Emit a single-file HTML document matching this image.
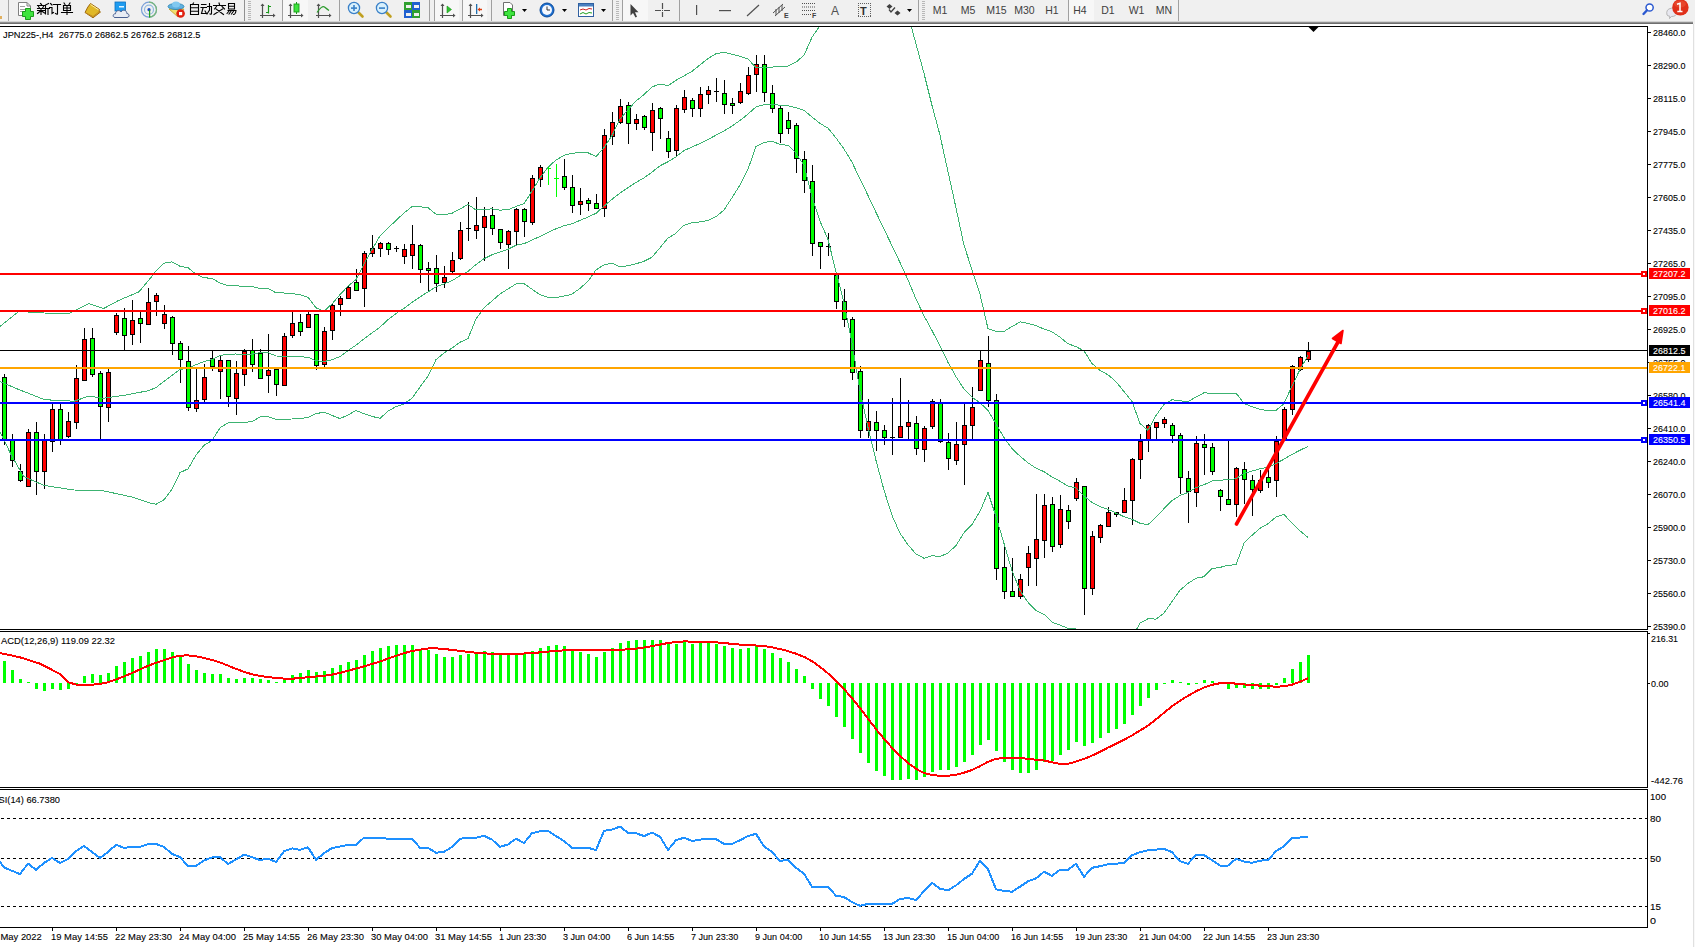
<!DOCTYPE html>
<html><head><meta charset="utf-8"><style>
html,body{margin:0;padding:0;width:1695px;height:947px;overflow:hidden;background:#fff;}
text{font-family:"Liberation Sans",sans-serif;}
</style></head><body>
<svg width="1695" height="947" viewBox="0 0 1695 947" style="position:absolute;left:0;top:0" font-family="Liberation Sans, sans-serif">
<rect x="0" y="0" width="1695" height="947" fill="#ffffff"/>
<rect x="0" y="0" width="1695" height="24" fill="#f0f0f0"/>
<rect x="0" y="21" width="1693" height="1" fill="#d4d4d4"/>
<rect x="0" y="22" width="1693" height="1" fill="#909090"/>
<rect x="0" y="23" width="1693" height="1" fill="#6e6e6e"/>
<rect x="1693" y="24" width="1" height="923" fill="#e0e0e0"/>
<rect x="1694" y="24" width="1" height="923" fill="#f8f8f8"/>
<defs><clipPath id="cm"><rect x="0" y="27" width="1647" height="602"/></clipPath><clipPath id="cmacd"><rect x="0" y="632" width="1647" height="155"/></clipPath><clipPath id="crsi"><rect x="0" y="790" width="1647" height="137"/></clipPath></defs>
<g shape-rendering="crispEdges">
<rect x="0" y="26" width="1648" height="1" fill="#000"/>
<rect x="1647" y="26" width="1" height="604" fill="#000"/>
<rect x="0" y="629" width="1648" height="1" fill="#000"/>
<rect x="0" y="631" width="1648" height="1" fill="#000"/>
<rect x="1647" y="631" width="1" height="157" fill="#000"/>
<rect x="0" y="787" width="1648" height="1" fill="#000"/>
<rect x="0" y="789" width="1648" height="1" fill="#000"/>
<rect x="1647" y="789" width="1" height="139" fill="#000"/>
<rect x="0" y="927" width="1648" height="1" fill="#000"/>
</g>
<g shape-rendering="crispEdges">
<rect x="1648" y="32" width="3" height="1" fill="#000"/>
<rect x="1648" y="65" width="3" height="1" fill="#000"/>
<rect x="1648" y="98" width="3" height="1" fill="#000"/>
<rect x="1648" y="131" width="3" height="1" fill="#000"/>
<rect x="1648" y="164" width="3" height="1" fill="#000"/>
<rect x="1648" y="197" width="3" height="1" fill="#000"/>
<rect x="1648" y="230" width="3" height="1" fill="#000"/>
<rect x="1648" y="263" width="3" height="1" fill="#000"/>
<rect x="1648" y="296" width="3" height="1" fill="#000"/>
<rect x="1648" y="329" width="3" height="1" fill="#000"/>
<rect x="1648" y="362" width="3" height="1" fill="#000"/>
<rect x="1648" y="395" width="3" height="1" fill="#000"/>
<rect x="1648" y="428" width="3" height="1" fill="#000"/>
<rect x="1648" y="461" width="3" height="1" fill="#000"/>
<rect x="1648" y="494" width="3" height="1" fill="#000"/>
<rect x="1648" y="527" width="3" height="1" fill="#000"/>
<rect x="1648" y="560" width="3" height="1" fill="#000"/>
<rect x="1648" y="593" width="3" height="1" fill="#000"/>
<rect x="1648" y="626" width="3" height="1" fill="#000"/>
</g>
<text x="1653" y="36" font-size="9.8" fill="#000" text-anchor="start" textLength="32.5" lengthAdjust="spacingAndGlyphs" stroke="#000" stroke-width="0.1">28460.0</text>
<text x="1653" y="69" font-size="9.8" fill="#000" text-anchor="start" textLength="32.5" lengthAdjust="spacingAndGlyphs" stroke="#000" stroke-width="0.1">28290.0</text>
<text x="1653" y="102" font-size="9.8" fill="#000" text-anchor="start" textLength="32.5" lengthAdjust="spacingAndGlyphs" stroke="#000" stroke-width="0.1">28115.0</text>
<text x="1653" y="135" font-size="9.8" fill="#000" text-anchor="start" textLength="32.5" lengthAdjust="spacingAndGlyphs" stroke="#000" stroke-width="0.1">27945.0</text>
<text x="1653" y="168" font-size="9.8" fill="#000" text-anchor="start" textLength="32.5" lengthAdjust="spacingAndGlyphs" stroke="#000" stroke-width="0.1">27775.0</text>
<text x="1653" y="201" font-size="9.8" fill="#000" text-anchor="start" textLength="32.5" lengthAdjust="spacingAndGlyphs" stroke="#000" stroke-width="0.1">27605.0</text>
<text x="1653" y="234" font-size="9.8" fill="#000" text-anchor="start" textLength="32.5" lengthAdjust="spacingAndGlyphs" stroke="#000" stroke-width="0.1">27435.0</text>
<text x="1653" y="267" font-size="9.8" fill="#000" text-anchor="start" textLength="32.5" lengthAdjust="spacingAndGlyphs" stroke="#000" stroke-width="0.1">27265.0</text>
<text x="1653" y="300" font-size="9.8" fill="#000" text-anchor="start" textLength="32.5" lengthAdjust="spacingAndGlyphs" stroke="#000" stroke-width="0.1">27095.0</text>
<text x="1653" y="333" font-size="9.8" fill="#000" text-anchor="start" textLength="32.5" lengthAdjust="spacingAndGlyphs" stroke="#000" stroke-width="0.1">26925.0</text>
<text x="1653" y="366" font-size="9.8" fill="#000" text-anchor="start" textLength="32.5" lengthAdjust="spacingAndGlyphs" stroke="#000" stroke-width="0.1">26755.0</text>
<text x="1653" y="399" font-size="9.8" fill="#000" text-anchor="start" textLength="32.5" lengthAdjust="spacingAndGlyphs" stroke="#000" stroke-width="0.1">26580.0</text>
<text x="1653" y="432" font-size="9.8" fill="#000" text-anchor="start" textLength="32.5" lengthAdjust="spacingAndGlyphs" stroke="#000" stroke-width="0.1">26410.0</text>
<text x="1653" y="465" font-size="9.8" fill="#000" text-anchor="start" textLength="32.5" lengthAdjust="spacingAndGlyphs" stroke="#000" stroke-width="0.1">26240.0</text>
<text x="1653" y="498" font-size="9.8" fill="#000" text-anchor="start" textLength="32.5" lengthAdjust="spacingAndGlyphs" stroke="#000" stroke-width="0.1">26070.0</text>
<text x="1653" y="531" font-size="9.8" fill="#000" text-anchor="start" textLength="32.5" lengthAdjust="spacingAndGlyphs" stroke="#000" stroke-width="0.1">25900.0</text>
<text x="1653" y="564" font-size="9.8" fill="#000" text-anchor="start" textLength="32.5" lengthAdjust="spacingAndGlyphs" stroke="#000" stroke-width="0.1">25730.0</text>
<text x="1653" y="597" font-size="9.8" fill="#000" text-anchor="start" textLength="32.5" lengthAdjust="spacingAndGlyphs" stroke="#000" stroke-width="0.1">25560.0</text>
<text x="1653" y="630" font-size="9.8" fill="#000" text-anchor="start" textLength="32.5" lengthAdjust="spacingAndGlyphs" stroke="#000" stroke-width="0.1">25390.0</text>
<g shape-rendering="crispEdges" clip-path="url(#cm)">
<rect x="4" y="374" width="1" height="71" fill="#000"/>
<rect x="2" y="377" width="5" height="63" fill="#000"/>
<rect x="3" y="378" width="3" height="61" fill="#00ff00"/>
<rect x="12" y="434" width="1" height="33" fill="#000"/>
<rect x="10" y="440" width="5" height="21" fill="#000"/>
<rect x="11" y="441" width="3" height="19" fill="#00ff00"/>
<rect x="20" y="464" width="1" height="18" fill="#000"/>
<rect x="18" y="471" width="5" height="10" fill="#000"/>
<rect x="19" y="472" width="3" height="8" fill="#00ff00"/>
<rect x="28" y="429" width="1" height="58" fill="#000"/>
<rect x="26" y="432" width="5" height="55" fill="#000"/>
<rect x="27" y="433" width="3" height="53" fill="#ff0000"/>
<rect x="36" y="422" width="1" height="73" fill="#000"/>
<rect x="34" y="432" width="5" height="40" fill="#000"/>
<rect x="35" y="433" width="3" height="38" fill="#00ff00"/>
<rect x="44" y="434" width="1" height="55" fill="#000"/>
<rect x="42" y="440" width="5" height="32" fill="#000"/>
<rect x="43" y="441" width="3" height="30" fill="#ff0000"/>
<rect x="52" y="404" width="1" height="48" fill="#000"/>
<rect x="50" y="409" width="5" height="33" fill="#000"/>
<rect x="51" y="410" width="3" height="31" fill="#ff0000"/>
<rect x="60" y="404" width="1" height="41" fill="#000"/>
<rect x="58" y="409" width="5" height="31" fill="#000"/>
<rect x="59" y="410" width="3" height="29" fill="#00ff00"/>
<rect x="68" y="412" width="1" height="26" fill="#000"/>
<rect x="66" y="421" width="5" height="16" fill="#000"/>
<rect x="67" y="422" width="3" height="14" fill="#ff0000"/>
<rect x="76" y="365" width="1" height="64" fill="#000"/>
<rect x="74" y="378" width="5" height="45" fill="#000"/>
<rect x="75" y="379" width="3" height="43" fill="#ff0000"/>
<rect x="84" y="328" width="1" height="53" fill="#000"/>
<rect x="82" y="339" width="5" height="42" fill="#000"/>
<rect x="83" y="340" width="3" height="40" fill="#ff0000"/>
<rect x="92" y="328" width="1" height="49" fill="#000"/>
<rect x="90" y="338" width="5" height="37" fill="#000"/>
<rect x="91" y="339" width="3" height="35" fill="#00ff00"/>
<rect x="100" y="371" width="1" height="69" fill="#000"/>
<rect x="98" y="373" width="5" height="34" fill="#000"/>
<rect x="99" y="374" width="3" height="32" fill="#00ff00"/>
<rect x="108" y="369" width="1" height="53" fill="#000"/>
<rect x="106" y="372" width="5" height="36" fill="#000"/>
<rect x="107" y="373" width="3" height="34" fill="#ff0000"/>
<rect x="116" y="313" width="1" height="22" fill="#000"/>
<rect x="114" y="315" width="5" height="18" fill="#000"/>
<rect x="115" y="316" width="3" height="16" fill="#ff0000"/>
<rect x="124" y="308" width="1" height="43" fill="#000"/>
<rect x="122" y="318" width="5" height="18" fill="#000"/>
<rect x="123" y="319" width="3" height="16" fill="#00ff00"/>
<rect x="132" y="300" width="1" height="45" fill="#000"/>
<rect x="130" y="320" width="5" height="15" fill="#000"/>
<rect x="131" y="321" width="3" height="13" fill="#ff0000"/>
<rect x="140" y="312" width="1" height="31" fill="#000"/>
<rect x="138" y="318" width="5" height="6" fill="#000"/>
<rect x="139" y="319" width="3" height="4" fill="#00ff00"/>
<rect x="148" y="288" width="1" height="37" fill="#000"/>
<rect x="146" y="302" width="5" height="23" fill="#000"/>
<rect x="147" y="303" width="3" height="21" fill="#ff0000"/>
<rect x="156" y="293" width="1" height="23" fill="#000"/>
<rect x="154" y="295" width="5" height="7" fill="#000"/>
<rect x="155" y="296" width="3" height="5" fill="#ff0000"/>
<rect x="164" y="305" width="1" height="24" fill="#000"/>
<rect x="162" y="314" width="5" height="10" fill="#000"/>
<rect x="163" y="315" width="3" height="8" fill="#ff0000"/>
<rect x="172" y="316" width="1" height="39" fill="#000"/>
<rect x="170" y="317" width="5" height="27" fill="#000"/>
<rect x="171" y="318" width="3" height="25" fill="#00ff00"/>
<rect x="180" y="341" width="1" height="42" fill="#000"/>
<rect x="178" y="343" width="5" height="17" fill="#000"/>
<rect x="179" y="344" width="3" height="15" fill="#00ff00"/>
<rect x="188" y="346" width="1" height="65" fill="#000"/>
<rect x="186" y="361" width="5" height="47" fill="#000"/>
<rect x="187" y="362" width="3" height="45" fill="#00ff00"/>
<rect x="196" y="368" width="1" height="44" fill="#000"/>
<rect x="194" y="400" width="5" height="9" fill="#000"/>
<rect x="195" y="401" width="3" height="7" fill="#ff0000"/>
<rect x="204" y="364" width="1" height="38" fill="#000"/>
<rect x="202" y="377" width="5" height="23" fill="#000"/>
<rect x="203" y="378" width="3" height="21" fill="#ff0000"/>
<rect x="212" y="351" width="1" height="20" fill="#000"/>
<rect x="210" y="358" width="5" height="9" fill="#000"/>
<rect x="211" y="359" width="3" height="7" fill="#00ff00"/>
<rect x="220" y="356" width="1" height="43" fill="#000"/>
<rect x="218" y="360" width="5" height="12" fill="#000"/>
<rect x="219" y="361" width="3" height="10" fill="#ff0000"/>
<rect x="228" y="360" width="1" height="47" fill="#000"/>
<rect x="226" y="360" width="5" height="37" fill="#000"/>
<rect x="227" y="361" width="3" height="35" fill="#00ff00"/>
<rect x="236" y="361" width="1" height="54" fill="#000"/>
<rect x="234" y="373" width="5" height="26" fill="#000"/>
<rect x="235" y="374" width="3" height="24" fill="#ff0000"/>
<rect x="244" y="349" width="1" height="37" fill="#000"/>
<rect x="242" y="351" width="5" height="24" fill="#000"/>
<rect x="243" y="352" width="3" height="22" fill="#ff0000"/>
<rect x="252" y="339" width="1" height="33" fill="#000"/>
<rect x="250" y="350" width="5" height="15" fill="#000"/>
<rect x="251" y="351" width="3" height="13" fill="#00ff00"/>
<rect x="260" y="349" width="1" height="30" fill="#000"/>
<rect x="258" y="353" width="5" height="26" fill="#000"/>
<rect x="259" y="354" width="3" height="24" fill="#00ff00"/>
<rect x="268" y="334" width="1" height="59" fill="#000"/>
<rect x="266" y="370" width="5" height="6" fill="#000"/>
<rect x="267" y="371" width="3" height="4" fill="#ff0000"/>
<rect x="276" y="369" width="1" height="27" fill="#000"/>
<rect x="274" y="369" width="5" height="16" fill="#000"/>
<rect x="275" y="370" width="3" height="14" fill="#00ff00"/>
<rect x="284" y="333" width="1" height="53" fill="#000"/>
<rect x="282" y="336" width="5" height="50" fill="#000"/>
<rect x="283" y="337" width="3" height="48" fill="#ff0000"/>
<rect x="292" y="312" width="1" height="26" fill="#000"/>
<rect x="290" y="323" width="5" height="13" fill="#000"/>
<rect x="291" y="324" width="3" height="11" fill="#ff0000"/>
<rect x="300" y="314" width="1" height="22" fill="#000"/>
<rect x="298" y="322" width="5" height="10" fill="#000"/>
<rect x="299" y="323" width="3" height="8" fill="#00ff00"/>
<rect x="308" y="312" width="1" height="16" fill="#000"/>
<rect x="306" y="314" width="5" height="14" fill="#000"/>
<rect x="307" y="315" width="3" height="12" fill="#ff0000"/>
<rect x="316" y="314" width="1" height="56" fill="#000"/>
<rect x="314" y="314" width="5" height="52" fill="#000"/>
<rect x="315" y="315" width="3" height="50" fill="#00ff00"/>
<rect x="324" y="327" width="1" height="41" fill="#000"/>
<rect x="322" y="331" width="5" height="34" fill="#000"/>
<rect x="323" y="332" width="3" height="32" fill="#ff0000"/>
<rect x="332" y="304" width="1" height="36" fill="#000"/>
<rect x="330" y="305" width="5" height="26" fill="#000"/>
<rect x="331" y="306" width="3" height="24" fill="#ff0000"/>
<rect x="340" y="296" width="1" height="20" fill="#000"/>
<rect x="338" y="298" width="5" height="7" fill="#000"/>
<rect x="339" y="299" width="3" height="5" fill="#ff0000"/>
<rect x="348" y="285" width="1" height="14" fill="#000"/>
<rect x="346" y="287" width="5" height="12" fill="#000"/>
<rect x="347" y="288" width="3" height="10" fill="#ff0000"/>
<rect x="356" y="269" width="1" height="22" fill="#000"/>
<rect x="354" y="282" width="5" height="9" fill="#000"/>
<rect x="355" y="283" width="3" height="7" fill="#00ff00"/>
<rect x="364" y="251" width="1" height="56" fill="#000"/>
<rect x="362" y="253" width="5" height="36" fill="#000"/>
<rect x="363" y="254" width="3" height="34" fill="#ff0000"/>
<rect x="372" y="235" width="1" height="22" fill="#000"/>
<rect x="370" y="248" width="5" height="6" fill="#000"/>
<rect x="371" y="249" width="3" height="4" fill="#ff0000"/>
<rect x="380" y="242" width="1" height="15" fill="#000"/>
<rect x="378" y="243" width="5" height="6" fill="#000"/>
<rect x="379" y="244" width="3" height="4" fill="#ff0000"/>
<rect x="388" y="242" width="1" height="13" fill="#000"/>
<rect x="386" y="243" width="5" height="7" fill="#000"/>
<rect x="387" y="244" width="3" height="5" fill="#00ff00"/>
<rect x="396" y="246" width="1" height="6" fill="#000"/>
<rect x="394" y="248" width="5" height="1" fill="#000"/>
<rect x="404" y="244" width="1" height="20" fill="#000"/>
<rect x="402" y="249" width="5" height="8" fill="#000"/>
<rect x="403" y="250" width="3" height="6" fill="#ff0000"/>
<rect x="412" y="225" width="1" height="44" fill="#000"/>
<rect x="410" y="244" width="5" height="12" fill="#000"/>
<rect x="411" y="245" width="3" height="10" fill="#ff0000"/>
<rect x="420" y="244" width="1" height="39" fill="#000"/>
<rect x="418" y="245" width="5" height="25" fill="#000"/>
<rect x="419" y="246" width="3" height="23" fill="#00ff00"/>
<rect x="428" y="262" width="1" height="29" fill="#000"/>
<rect x="426" y="268" width="5" height="3" fill="#000"/>
<rect x="427" y="269" width="3" height="1" fill="#00ff00"/>
<rect x="436" y="255" width="1" height="37" fill="#000"/>
<rect x="434" y="268" width="5" height="16" fill="#000"/>
<rect x="435" y="269" width="3" height="14" fill="#00ff00"/>
<rect x="444" y="266" width="1" height="22" fill="#000"/>
<rect x="442" y="277" width="5" height="6" fill="#000"/>
<rect x="443" y="278" width="3" height="4" fill="#ff0000"/>
<rect x="452" y="252" width="1" height="22" fill="#000"/>
<rect x="450" y="260" width="5" height="12" fill="#000"/>
<rect x="451" y="261" width="3" height="10" fill="#ff0000"/>
<rect x="460" y="222" width="1" height="38" fill="#000"/>
<rect x="458" y="230" width="5" height="29" fill="#000"/>
<rect x="459" y="231" width="3" height="27" fill="#ff0000"/>
<rect x="468" y="202" width="1" height="39" fill="#000"/>
<rect x="466" y="228" width="5" height="1" fill="#000"/>
<rect x="476" y="197" width="1" height="42" fill="#000"/>
<rect x="474" y="225" width="5" height="6" fill="#000"/>
<rect x="475" y="226" width="3" height="4" fill="#ff0000"/>
<rect x="484" y="207" width="1" height="54" fill="#000"/>
<rect x="482" y="216" width="5" height="12" fill="#000"/>
<rect x="483" y="217" width="3" height="10" fill="#ff0000"/>
<rect x="492" y="207" width="1" height="28" fill="#000"/>
<rect x="490" y="215" width="5" height="14" fill="#000"/>
<rect x="491" y="216" width="3" height="12" fill="#00ff00"/>
<rect x="500" y="229" width="1" height="20" fill="#000"/>
<rect x="498" y="229" width="5" height="14" fill="#000"/>
<rect x="499" y="230" width="3" height="12" fill="#00ff00"/>
<rect x="508" y="230" width="1" height="39" fill="#000"/>
<rect x="506" y="231" width="5" height="14" fill="#000"/>
<rect x="507" y="232" width="3" height="12" fill="#ff0000"/>
<rect x="516" y="208" width="1" height="38" fill="#000"/>
<rect x="514" y="209" width="5" height="23" fill="#000"/>
<rect x="515" y="210" width="3" height="21" fill="#ff0000"/>
<rect x="524" y="208" width="1" height="29" fill="#000"/>
<rect x="522" y="209" width="5" height="13" fill="#000"/>
<rect x="523" y="210" width="3" height="11" fill="#00ff00"/>
<rect x="532" y="175" width="1" height="50" fill="#000"/>
<rect x="530" y="178" width="5" height="45" fill="#000"/>
<rect x="531" y="179" width="3" height="43" fill="#ff0000"/>
<rect x="540" y="165" width="1" height="22" fill="#000"/>
<rect x="538" y="167" width="5" height="13" fill="#000"/>
<rect x="539" y="168" width="3" height="11" fill="#ff0000"/>
<rect x="548" y="167" width="1" height="18" fill="#00ff00"/>
<rect x="546" y="168" width="5" height="1" fill="#00ff00"/>
<rect x="556" y="164" width="1" height="33" fill="#00ff00"/>
<rect x="554" y="178" width="5" height="1" fill="#00ff00"/>
<rect x="564" y="159" width="1" height="31" fill="#000"/>
<rect x="562" y="176" width="5" height="12" fill="#000"/>
<rect x="563" y="177" width="3" height="10" fill="#00ff00"/>
<rect x="572" y="175" width="1" height="38" fill="#000"/>
<rect x="570" y="187" width="5" height="19" fill="#000"/>
<rect x="571" y="188" width="3" height="17" fill="#00ff00"/>
<rect x="580" y="188" width="1" height="27" fill="#000"/>
<rect x="578" y="201" width="5" height="4" fill="#000"/>
<rect x="579" y="202" width="3" height="2" fill="#ff0000"/>
<rect x="588" y="198" width="1" height="13" fill="#000"/>
<rect x="586" y="200" width="5" height="4" fill="#000"/>
<rect x="587" y="201" width="3" height="2" fill="#00ff00"/>
<rect x="596" y="194" width="1" height="15" fill="#000"/>
<rect x="594" y="203" width="5" height="6" fill="#000"/>
<rect x="595" y="204" width="3" height="4" fill="#00ff00"/>
<rect x="604" y="129" width="1" height="88" fill="#000"/>
<rect x="602" y="135" width="5" height="74" fill="#000"/>
<rect x="603" y="136" width="3" height="72" fill="#ff0000"/>
<rect x="612" y="112" width="1" height="33" fill="#000"/>
<rect x="610" y="122" width="5" height="15" fill="#000"/>
<rect x="611" y="123" width="3" height="13" fill="#ff0000"/>
<rect x="620" y="99" width="1" height="25" fill="#000"/>
<rect x="618" y="106" width="5" height="17" fill="#000"/>
<rect x="619" y="107" width="3" height="15" fill="#ff0000"/>
<rect x="628" y="102" width="1" height="42" fill="#000"/>
<rect x="626" y="105" width="5" height="19" fill="#000"/>
<rect x="627" y="106" width="3" height="17" fill="#00ff00"/>
<rect x="636" y="114" width="1" height="16" fill="#000"/>
<rect x="634" y="119" width="5" height="5" fill="#000"/>
<rect x="635" y="120" width="3" height="3" fill="#ff0000"/>
<rect x="644" y="115" width="1" height="15" fill="#000"/>
<rect x="642" y="116" width="5" height="12" fill="#000"/>
<rect x="643" y="117" width="3" height="10" fill="#00ff00"/>
<rect x="652" y="103" width="1" height="48" fill="#000"/>
<rect x="650" y="110" width="5" height="23" fill="#000"/>
<rect x="651" y="111" width="3" height="21" fill="#ff0000"/>
<rect x="660" y="107" width="1" height="32" fill="#000"/>
<rect x="658" y="108" width="5" height="11" fill="#000"/>
<rect x="659" y="109" width="3" height="9" fill="#00ff00"/>
<rect x="668" y="131" width="1" height="27" fill="#000"/>
<rect x="666" y="138" width="5" height="14" fill="#000"/>
<rect x="667" y="139" width="3" height="12" fill="#00ff00"/>
<rect x="676" y="105" width="1" height="51" fill="#000"/>
<rect x="674" y="108" width="5" height="43" fill="#000"/>
<rect x="675" y="109" width="3" height="41" fill="#ff0000"/>
<rect x="684" y="90" width="1" height="23" fill="#000"/>
<rect x="682" y="97" width="5" height="13" fill="#000"/>
<rect x="683" y="98" width="3" height="11" fill="#ff0000"/>
<rect x="692" y="98" width="1" height="19" fill="#000"/>
<rect x="690" y="100" width="5" height="9" fill="#000"/>
<rect x="691" y="101" width="3" height="7" fill="#00ff00"/>
<rect x="700" y="87" width="1" height="30" fill="#000"/>
<rect x="698" y="94" width="5" height="15" fill="#000"/>
<rect x="699" y="95" width="3" height="13" fill="#ff0000"/>
<rect x="708" y="86" width="1" height="18" fill="#000"/>
<rect x="706" y="90" width="5" height="5" fill="#000"/>
<rect x="707" y="91" width="3" height="3" fill="#ff0000"/>
<rect x="716" y="78" width="1" height="24" fill="#000"/>
<rect x="714" y="91" width="5" height="1" fill="#000"/>
<rect x="724" y="80" width="1" height="34" fill="#000"/>
<rect x="722" y="93" width="5" height="12" fill="#000"/>
<rect x="723" y="94" width="3" height="10" fill="#00ff00"/>
<rect x="732" y="98" width="1" height="16" fill="#000"/>
<rect x="730" y="103" width="5" height="3" fill="#000"/>
<rect x="731" y="104" width="3" height="1" fill="#00ff00"/>
<rect x="740" y="83" width="1" height="21" fill="#000"/>
<rect x="738" y="91" width="5" height="12" fill="#000"/>
<rect x="739" y="92" width="3" height="10" fill="#ff0000"/>
<rect x="748" y="67" width="1" height="28" fill="#000"/>
<rect x="746" y="75" width="5" height="19" fill="#000"/>
<rect x="747" y="76" width="3" height="17" fill="#ff0000"/>
<rect x="756" y="55" width="1" height="37" fill="#000"/>
<rect x="754" y="64" width="5" height="11" fill="#000"/>
<rect x="755" y="65" width="3" height="9" fill="#ff0000"/>
<rect x="764" y="55" width="1" height="47" fill="#000"/>
<rect x="762" y="64" width="5" height="29" fill="#000"/>
<rect x="763" y="65" width="3" height="27" fill="#00ff00"/>
<rect x="772" y="85" width="1" height="28" fill="#000"/>
<rect x="770" y="93" width="5" height="16" fill="#000"/>
<rect x="771" y="94" width="3" height="14" fill="#00ff00"/>
<rect x="780" y="106" width="1" height="37" fill="#000"/>
<rect x="778" y="108" width="5" height="26" fill="#000"/>
<rect x="779" y="109" width="3" height="24" fill="#00ff00"/>
<rect x="788" y="112" width="1" height="22" fill="#000"/>
<rect x="786" y="120" width="5" height="9" fill="#000"/>
<rect x="787" y="121" width="3" height="7" fill="#00ff00"/>
<rect x="796" y="123" width="1" height="50" fill="#000"/>
<rect x="794" y="125" width="5" height="34" fill="#000"/>
<rect x="795" y="126" width="3" height="32" fill="#00ff00"/>
<rect x="804" y="151" width="1" height="42" fill="#000"/>
<rect x="802" y="159" width="5" height="22" fill="#000"/>
<rect x="803" y="160" width="3" height="20" fill="#00ff00"/>
<rect x="812" y="165" width="1" height="91" fill="#000"/>
<rect x="810" y="181" width="5" height="63" fill="#000"/>
<rect x="811" y="182" width="3" height="61" fill="#00ff00"/>
<rect x="820" y="242" width="1" height="27" fill="#000"/>
<rect x="818" y="242" width="5" height="5" fill="#000"/>
<rect x="819" y="243" width="3" height="3" fill="#00ff00"/>
<rect x="828" y="233" width="1" height="23" fill="#000"/>
<rect x="826" y="246" width="5" height="1" fill="#000"/>
<rect x="836" y="274" width="1" height="35" fill="#000"/>
<rect x="834" y="275" width="5" height="27" fill="#000"/>
<rect x="835" y="276" width="3" height="25" fill="#00ff00"/>
<rect x="844" y="289" width="1" height="38" fill="#000"/>
<rect x="842" y="301" width="5" height="19" fill="#000"/>
<rect x="843" y="302" width="3" height="17" fill="#00ff00"/>
<rect x="852" y="317" width="1" height="63" fill="#000"/>
<rect x="850" y="319" width="5" height="54" fill="#000"/>
<rect x="851" y="320" width="3" height="52" fill="#00ff00"/>
<rect x="860" y="366" width="1" height="72" fill="#000"/>
<rect x="858" y="371" width="5" height="60" fill="#000"/>
<rect x="859" y="372" width="3" height="58" fill="#00ff00"/>
<rect x="868" y="399" width="1" height="39" fill="#000"/>
<rect x="866" y="421" width="5" height="10" fill="#000"/>
<rect x="867" y="422" width="3" height="8" fill="#ff0000"/>
<rect x="876" y="411" width="1" height="40" fill="#000"/>
<rect x="874" y="422" width="5" height="9" fill="#000"/>
<rect x="875" y="423" width="3" height="7" fill="#00ff00"/>
<rect x="884" y="425" width="1" height="20" fill="#000"/>
<rect x="882" y="430" width="5" height="8" fill="#000"/>
<rect x="883" y="431" width="3" height="6" fill="#00ff00"/>
<rect x="892" y="398" width="1" height="57" fill="#000"/>
<rect x="890" y="437" width="5" height="1" fill="#000"/>
<rect x="900" y="378" width="1" height="60" fill="#000"/>
<rect x="898" y="426" width="5" height="12" fill="#000"/>
<rect x="899" y="427" width="3" height="10" fill="#ff0000"/>
<rect x="908" y="400" width="1" height="39" fill="#000"/>
<rect x="906" y="422" width="5" height="5" fill="#000"/>
<rect x="907" y="423" width="3" height="3" fill="#ff0000"/>
<rect x="916" y="416" width="1" height="39" fill="#000"/>
<rect x="914" y="423" width="5" height="26" fill="#000"/>
<rect x="915" y="424" width="3" height="24" fill="#00ff00"/>
<rect x="924" y="426" width="1" height="36" fill="#000"/>
<rect x="922" y="428" width="5" height="22" fill="#000"/>
<rect x="923" y="429" width="3" height="20" fill="#ff0000"/>
<rect x="932" y="399" width="1" height="30" fill="#000"/>
<rect x="930" y="401" width="5" height="26" fill="#000"/>
<rect x="931" y="402" width="3" height="24" fill="#ff0000"/>
<rect x="940" y="399" width="1" height="44" fill="#000"/>
<rect x="938" y="403" width="5" height="39" fill="#000"/>
<rect x="939" y="404" width="3" height="37" fill="#00ff00"/>
<rect x="948" y="433" width="1" height="37" fill="#000"/>
<rect x="946" y="442" width="5" height="17" fill="#000"/>
<rect x="947" y="443" width="3" height="15" fill="#00ff00"/>
<rect x="956" y="422" width="1" height="43" fill="#000"/>
<rect x="954" y="444" width="5" height="17" fill="#000"/>
<rect x="955" y="445" width="3" height="15" fill="#ff0000"/>
<rect x="964" y="404" width="1" height="81" fill="#000"/>
<rect x="962" y="425" width="5" height="20" fill="#000"/>
<rect x="963" y="426" width="3" height="18" fill="#ff0000"/>
<rect x="972" y="387" width="1" height="52" fill="#000"/>
<rect x="970" y="407" width="5" height="19" fill="#000"/>
<rect x="971" y="408" width="3" height="17" fill="#ff0000"/>
<rect x="980" y="351" width="1" height="40" fill="#000"/>
<rect x="978" y="360" width="5" height="31" fill="#000"/>
<rect x="979" y="361" width="3" height="29" fill="#ff0000"/>
<rect x="988" y="336" width="1" height="71" fill="#000"/>
<rect x="986" y="363" width="5" height="38" fill="#000"/>
<rect x="987" y="364" width="3" height="36" fill="#00ff00"/>
<rect x="996" y="394" width="1" height="186" fill="#000"/>
<rect x="994" y="400" width="5" height="169" fill="#000"/>
<rect x="995" y="401" width="3" height="167" fill="#00ff00"/>
<rect x="1004" y="546" width="1" height="53" fill="#000"/>
<rect x="1002" y="567" width="5" height="25" fill="#000"/>
<rect x="1003" y="568" width="3" height="23" fill="#00ff00"/>
<rect x="1012" y="558" width="1" height="39" fill="#000"/>
<rect x="1010" y="591" width="5" height="6" fill="#000"/>
<rect x="1011" y="592" width="3" height="4" fill="#00ff00"/>
<rect x="1020" y="574" width="1" height="25" fill="#000"/>
<rect x="1018" y="579" width="5" height="18" fill="#000"/>
<rect x="1019" y="580" width="3" height="16" fill="#ff0000"/>
<rect x="1028" y="546" width="1" height="40" fill="#000"/>
<rect x="1026" y="553" width="5" height="15" fill="#000"/>
<rect x="1027" y="554" width="3" height="13" fill="#ff0000"/>
<rect x="1036" y="494" width="1" height="92" fill="#000"/>
<rect x="1034" y="539" width="5" height="20" fill="#000"/>
<rect x="1035" y="540" width="3" height="18" fill="#ff0000"/>
<rect x="1044" y="494" width="1" height="64" fill="#000"/>
<rect x="1042" y="505" width="5" height="36" fill="#000"/>
<rect x="1043" y="506" width="3" height="34" fill="#ff0000"/>
<rect x="1052" y="497" width="1" height="55" fill="#000"/>
<rect x="1050" y="504" width="5" height="43" fill="#000"/>
<rect x="1051" y="505" width="3" height="41" fill="#00ff00"/>
<rect x="1060" y="495" width="1" height="53" fill="#000"/>
<rect x="1058" y="509" width="5" height="36" fill="#000"/>
<rect x="1059" y="510" width="3" height="34" fill="#ff0000"/>
<rect x="1068" y="505" width="1" height="24" fill="#000"/>
<rect x="1066" y="510" width="5" height="12" fill="#000"/>
<rect x="1067" y="511" width="3" height="10" fill="#00ff00"/>
<rect x="1076" y="478" width="1" height="23" fill="#000"/>
<rect x="1074" y="482" width="5" height="17" fill="#000"/>
<rect x="1075" y="483" width="3" height="15" fill="#ff0000"/>
<rect x="1084" y="486" width="1" height="129" fill="#000"/>
<rect x="1082" y="486" width="5" height="103" fill="#000"/>
<rect x="1083" y="487" width="3" height="101" fill="#00ff00"/>
<rect x="1092" y="531" width="1" height="64" fill="#000"/>
<rect x="1090" y="536" width="5" height="53" fill="#000"/>
<rect x="1091" y="537" width="3" height="51" fill="#ff0000"/>
<rect x="1100" y="524" width="1" height="19" fill="#000"/>
<rect x="1098" y="525" width="5" height="13" fill="#000"/>
<rect x="1099" y="526" width="3" height="11" fill="#ff0000"/>
<rect x="1108" y="507" width="1" height="20" fill="#000"/>
<rect x="1106" y="512" width="5" height="15" fill="#000"/>
<rect x="1107" y="513" width="3" height="13" fill="#ff0000"/>
<rect x="1116" y="512" width="1" height="5" fill="#000"/>
<rect x="1114" y="512" width="5" height="3" fill="#000"/>
<rect x="1115" y="513" width="3" height="1" fill="#00ff00"/>
<rect x="1124" y="488" width="1" height="25" fill="#000"/>
<rect x="1122" y="500" width="5" height="13" fill="#000"/>
<rect x="1123" y="501" width="3" height="11" fill="#ff0000"/>
<rect x="1132" y="458" width="1" height="67" fill="#000"/>
<rect x="1130" y="459" width="5" height="42" fill="#000"/>
<rect x="1131" y="460" width="3" height="40" fill="#ff0000"/>
<rect x="1140" y="434" width="1" height="45" fill="#000"/>
<rect x="1138" y="441" width="5" height="19" fill="#000"/>
<rect x="1139" y="442" width="3" height="17" fill="#ff0000"/>
<rect x="1148" y="424" width="1" height="28" fill="#000"/>
<rect x="1146" y="425" width="5" height="15" fill="#000"/>
<rect x="1147" y="426" width="3" height="13" fill="#ff0000"/>
<rect x="1156" y="422" width="1" height="18" fill="#000"/>
<rect x="1154" y="422" width="5" height="6" fill="#000"/>
<rect x="1155" y="423" width="3" height="4" fill="#ff0000"/>
<rect x="1164" y="417" width="1" height="11" fill="#000"/>
<rect x="1162" y="419" width="5" height="5" fill="#000"/>
<rect x="1163" y="420" width="3" height="3" fill="#ff0000"/>
<rect x="1172" y="423" width="1" height="20" fill="#000"/>
<rect x="1170" y="425" width="5" height="11" fill="#000"/>
<rect x="1171" y="426" width="3" height="9" fill="#00ff00"/>
<rect x="1180" y="433" width="1" height="61" fill="#000"/>
<rect x="1178" y="435" width="5" height="43" fill="#000"/>
<rect x="1179" y="436" width="3" height="41" fill="#00ff00"/>
<rect x="1188" y="471" width="1" height="52" fill="#000"/>
<rect x="1186" y="478" width="5" height="14" fill="#000"/>
<rect x="1187" y="479" width="3" height="12" fill="#00ff00"/>
<rect x="1196" y="436" width="1" height="71" fill="#000"/>
<rect x="1194" y="443" width="5" height="50" fill="#000"/>
<rect x="1195" y="444" width="3" height="48" fill="#ff0000"/>
<rect x="1204" y="434" width="1" height="41" fill="#000"/>
<rect x="1202" y="444" width="5" height="4" fill="#000"/>
<rect x="1203" y="445" width="3" height="2" fill="#00ff00"/>
<rect x="1212" y="443" width="1" height="32" fill="#000"/>
<rect x="1210" y="447" width="5" height="25" fill="#000"/>
<rect x="1211" y="448" width="3" height="23" fill="#00ff00"/>
<rect x="1220" y="489" width="1" height="22" fill="#000"/>
<rect x="1218" y="490" width="5" height="7" fill="#000"/>
<rect x="1219" y="491" width="3" height="5" fill="#00ff00"/>
<rect x="1228" y="441" width="1" height="64" fill="#000"/>
<rect x="1226" y="499" width="5" height="6" fill="#000"/>
<rect x="1227" y="500" width="3" height="4" fill="#00ff00"/>
<rect x="1236" y="467" width="1" height="50" fill="#000"/>
<rect x="1234" y="468" width="5" height="37" fill="#000"/>
<rect x="1235" y="469" width="3" height="35" fill="#ff0000"/>
<rect x="1244" y="462" width="1" height="42" fill="#000"/>
<rect x="1242" y="469" width="5" height="11" fill="#000"/>
<rect x="1243" y="470" width="3" height="9" fill="#00ff00"/>
<rect x="1252" y="475" width="1" height="41" fill="#000"/>
<rect x="1250" y="480" width="5" height="10" fill="#000"/>
<rect x="1251" y="481" width="3" height="8" fill="#00ff00"/>
<rect x="1260" y="470" width="1" height="23" fill="#000"/>
<rect x="1258" y="480" width="5" height="11" fill="#000"/>
<rect x="1259" y="481" width="3" height="9" fill="#ff0000"/>
<rect x="1268" y="469" width="1" height="19" fill="#000"/>
<rect x="1266" y="477" width="5" height="6" fill="#000"/>
<rect x="1267" y="478" width="3" height="4" fill="#00ff00"/>
<rect x="1276" y="436" width="1" height="61" fill="#000"/>
<rect x="1274" y="441" width="5" height="40" fill="#000"/>
<rect x="1275" y="442" width="3" height="38" fill="#ff0000"/>
<rect x="1284" y="407" width="1" height="33" fill="#000"/>
<rect x="1282" y="409" width="5" height="31" fill="#000"/>
<rect x="1283" y="410" width="3" height="29" fill="#ff0000"/>
<rect x="1292" y="365" width="1" height="50" fill="#000"/>
<rect x="1290" y="366" width="5" height="44" fill="#000"/>
<rect x="1291" y="367" width="3" height="42" fill="#ff0000"/>
<rect x="1300" y="356" width="1" height="15" fill="#000"/>
<rect x="1298" y="357" width="5" height="13" fill="#000"/>
<rect x="1299" y="358" width="3" height="11" fill="#ff0000"/>
<rect x="1308" y="342" width="1" height="20" fill="#000"/>
<rect x="1306" y="351" width="5" height="9" fill="#000"/>
<rect x="1307" y="352" width="3" height="7" fill="#ff0000"/>
</g>
<g clip-path="url(#cm)" fill="none" stroke="#3cb371" stroke-width="1" shape-rendering="crispEdges">
<polyline points="0.0,326.4 19.2,311.0 32.5,312.5 68.0,314.0 88.7,303.6 103.5,308.6 118.3,300.6 139.0,291.8 153.8,274.0 156.0,270.9 164.0,263.1 172.0,261.9 180.0,266.3 188.0,267.6 196.0,274.3 204.0,277.7 212.0,278.4 220.0,283.1 228.0,285.6 236.0,285.7 244.0,286.6 252.0,286.5 260.0,288.4 268.0,288.4 276.0,292.8 284.0,293.0 292.0,293.6 300.0,294.7 308.0,297.2 316.0,307.8 324.0,311.1 332.0,303.9 340.0,294.6 348.0,286.1 356.0,279.6 364.0,264.0 372.0,249.5 380.0,235.9 388.0,228.2 396.0,220.4 404.0,213.0 412.0,206.6 420.0,206.8 428.0,207.7 436.0,214.2 444.0,214.7 452.0,213.3 460.0,209.0 468.0,204.4 476.0,210.0 484.0,209.5 492.0,208.8 500.0,210.1 508.0,209.7 516.0,206.5 524.0,203.7 532.0,191.1 540.0,178.0 548.0,167.3 556.0,160.0 564.0,155.3 572.0,153.4 580.0,152.5 588.0,152.8 596.0,156.6 604.0,147.6 612.0,135.5 620.0,119.2 628.0,109.8 636.0,101.0 644.0,94.6 652.0,86.9 660.0,84.0 668.0,85.6 676.0,80.3 684.0,75.9 692.0,71.3 700.0,64.9 708.0,58.6 716.0,53.7 724.0,52.2 732.0,54.3 740.0,56.2 748.0,59.1 756.0,67.5 764.0,67.0 772.0,67.1 780.0,66.3 788.0,66.1 796.0,62.2 804.0,55.3 812.0,37.2 820.0,25.7 828.0,17.0 836.0,4.1 844.0,-4.8 852.0,-18.2 860.0,-32.7 868.0,-36.5 876.0,-35.6 884.0,-32.1 892.0,-24.0 900.0,-8.3 908.0,14.8 916.0,43.9 924.0,73.4 932.0,105.4 940.0,135.2 948.0,171.8 956.0,207.9 964.0,245.2 972.0,269.9 980.0,294.3 988.0,328.7 996.0,331.3 1004.0,331.4 1012.0,326.6 1020.0,321.9 1028.0,323.3 1036.0,325.7 1044.0,329.0 1052.0,331.8 1060.0,337.2 1068.0,343.8 1076.0,346.6 1084.0,350.9 1092.0,363.5 1100.0,370.3 1108.0,374.8 1116.0,381.7 1124.0,391.6 1132.0,401.4 1140.0,423.5 1148.0,430.4 1156.0,415.5 1164.0,404.3 1172.0,399.7 1180.0,400.8 1188.0,401.5 1196.0,397.0 1204.0,392.8 1212.0,393.4 1220.0,393.4 1228.0,393.8 1236.0,393.0 1244.0,403.5 1252.0,406.8 1260.0,409.3 1268.0,410.8 1276.0,410.4 1284.0,403.6 1292.0,385.8 1300.0,369.6 1308.0,355.5"/>
<polyline points="0.0,381.4 14.8,387.9 29.6,393.8 44.4,399.7 74.0,401.2 88.7,396.2 103.5,398.2 124.2,395.3 147.9,390.8 156.0,387.6 164.0,381.4 172.0,375.5 180.0,369.5 188.0,368.2 196.0,364.7 204.0,361.5 212.0,359.4 220.0,355.4 228.0,354.2 236.0,354.0 244.0,354.5 252.0,354.1 260.0,352.7 268.0,352.6 276.0,356.0 284.0,356.1 292.0,356.3 300.0,356.7 308.0,357.3 316.0,360.7 324.0,361.6 332.0,359.7 340.0,356.6 348.0,350.6 356.0,345.1 364.0,338.9 372.0,333.0 380.0,327.1 388.0,319.7 396.0,313.5 404.0,308.4 412.0,302.4 420.0,296.9 428.0,291.9 436.0,286.9 444.0,283.9 452.0,280.7 460.0,275.7 468.0,271.5 476.0,264.5 484.0,258.7 492.0,254.8 500.0,252.1 508.0,249.3 516.0,245.2 524.0,243.7 532.0,240.1 540.0,236.4 548.0,232.4 556.0,228.8 564.0,225.7 572.0,223.8 580.0,220.4 588.0,217.0 596.0,213.3 604.0,206.2 612.0,199.3 620.0,193.1 628.0,187.7 636.0,182.4 644.0,177.9 652.0,172.1 660.0,165.8 668.0,161.8 676.0,156.8 684.0,150.6 692.0,147.0 700.0,143.4 708.0,139.5 716.0,135.2 724.0,131.0 732.0,126.0 740.0,120.5 748.0,114.1 756.0,106.9 764.0,104.8 772.0,104.1 780.0,105.4 788.0,105.7 796.0,107.7 804.0,110.3 812.0,117.0 820.0,123.4 828.0,128.2 836.0,137.9 844.0,149.0 852.0,162.2 860.0,179.0 868.0,195.5 876.0,212.4 884.0,229.1 892.0,245.7 900.0,262.5 908.0,279.8 916.0,299.0 924.0,315.8 932.0,330.5 940.0,345.9 948.0,362.4 956.0,376.7 964.0,389.0 972.0,397.2 980.0,402.8 988.0,410.5 996.0,423.9 1004.0,437.5 1012.0,448.7 1020.0,456.2 1028.0,462.8 1036.0,468.2 1044.0,471.6 1052.0,477.0 1060.0,481.2 1068.0,486.1 1076.0,487.8 1084.0,495.8 1092.0,502.5 1100.0,506.7 1108.0,509.4 1116.0,512.9 1124.0,516.7 1132.0,519.3 1140.0,523.3 1148.0,524.6 1156.0,517.3 1164.0,508.7 1172.0,500.7 1180.0,495.5 1188.0,492.4 1196.0,487.6 1204.0,484.7 1212.0,481.0 1220.0,480.4 1228.0,479.5 1236.0,478.8 1244.0,473.4 1252.0,471.0 1260.0,468.8 1268.0,467.3 1276.0,463.6 1284.0,459.1 1292.0,454.4 1300.0,450.2 1308.0,446.5"/>
<polyline points="0.0,432.2 11.8,456.0 23.7,476.6 44.4,485.5 74.0,490.0 103.5,490.8 133.0,497.3 150.0,503.0 156.0,504.3 164.0,499.7 172.0,489.2 180.0,472.6 188.0,468.9 196.0,455.1 204.0,445.4 212.0,440.5 220.0,427.8 228.0,422.8 236.0,422.2 244.0,422.5 252.0,421.6 260.0,416.9 268.0,416.7 276.0,419.2 284.0,419.2 292.0,419.0 300.0,418.6 308.0,417.3 316.0,413.7 324.0,412.1 332.0,415.4 340.0,418.6 348.0,415.0 356.0,410.5 364.0,413.8 372.0,416.4 380.0,418.3 388.0,411.2 396.0,406.6 404.0,403.9 412.0,398.2 420.0,387.0 428.0,376.1 436.0,359.6 444.0,353.0 452.0,348.1 460.0,342.3 468.0,338.5 476.0,319.0 484.0,307.9 492.0,300.9 500.0,294.0 508.0,288.9 516.0,284.0 524.0,283.6 532.0,289.2 540.0,294.7 548.0,297.4 556.0,297.6 564.0,296.1 572.0,294.2 580.0,288.3 588.0,281.3 596.0,269.9 604.0,264.8 612.0,263.1 620.0,267.0 628.0,265.7 636.0,263.8 644.0,261.3 652.0,257.2 660.0,247.7 668.0,238.1 676.0,233.3 684.0,225.2 692.0,222.8 700.0,221.9 708.0,220.4 716.0,216.7 724.0,209.9 732.0,197.8 740.0,184.9 748.0,169.2 756.0,146.4 764.0,142.5 772.0,141.0 780.0,144.5 788.0,145.3 796.0,153.2 804.0,165.3 812.0,196.8 820.0,221.2 828.0,239.4 836.0,271.6 844.0,302.7 852.0,342.6 860.0,390.6 868.0,427.4 876.0,460.4 884.0,490.2 892.0,515.4 900.0,533.3 908.0,544.8 916.0,554.1 924.0,558.2 932.0,555.6 940.0,556.6 948.0,553.0 956.0,545.5 964.0,532.7 972.0,524.4 980.0,511.4 988.0,492.4 996.0,516.4 1004.0,543.5 1012.0,570.7 1020.0,590.4 1028.0,602.3 1036.0,610.7 1044.0,614.3 1052.0,622.3 1060.0,625.1 1068.0,628.4 1076.0,629.0 1084.0,640.6 1092.0,641.6 1100.0,643.2 1108.0,644.0 1116.0,644.1 1124.0,641.8 1132.0,637.1 1140.0,623.2 1148.0,618.7 1156.0,619.1 1164.0,613.1 1172.0,601.6 1180.0,590.2 1188.0,583.4 1196.0,578.3 1204.0,576.7 1212.0,568.7 1220.0,567.4 1228.0,565.3 1236.0,564.7 1244.0,543.3 1252.0,535.3 1260.0,528.3 1268.0,523.8 1276.0,516.9 1284.0,514.5 1292.0,523.1 1300.0,530.9 1308.0,537.5"/>
</g>
<g shape-rendering="crispEdges">
<rect x="0" y="273" width="1641" height="2" fill="#ff0000"/>
<rect x="0" y="310" width="1641" height="2" fill="#ff0000"/>
<rect x="0" y="350" width="1647" height="1" fill="#000000"/>
<rect x="0" y="367" width="1647" height="2" fill="#ffa500"/>
<rect x="0" y="402" width="1641" height="2" fill="#0000ff"/>
<rect x="0" y="439" width="1641" height="2" fill="#0000ff"/>
<rect x="1641" y="271" width="6" height="6" fill="#ff0000"/><rect x="1643" y="273" width="2" height="2" fill="#fff"/>
<rect x="1641" y="308" width="6" height="6" fill="#ff0000"/><rect x="1643" y="310" width="2" height="2" fill="#fff"/>
<rect x="1641" y="400" width="6" height="6" fill="#0000ff"/><rect x="1643" y="402" width="2" height="2" fill="#fff"/>
<rect x="1641" y="437" width="6" height="6" fill="#0000ff"/><rect x="1643" y="439" width="2" height="2" fill="#fff"/>
</g>
<path d="M1236.5,524 L1338,342" stroke="#ff0000" stroke-width="3.6" stroke-linecap="round" fill="none"/>
<path d="M1343,330.5 L1332.5,338.5 L1341,343.5 Z" fill="#ff0000" stroke="#ff0000" stroke-width="1.6" stroke-linejoin="round"/>
<path d="M1308.5,27 L1318.5,27 L1313.5,32 Z" fill="#000"/>
<g shape-rendering="crispEdges">
<rect x="1649" y="268" width="41" height="11" fill="#ff0000"/>
<rect x="1649" y="305" width="41" height="11" fill="#ff0000"/>
<rect x="1649" y="345" width="41" height="11" fill="#000000"/>
<rect x="1649" y="362" width="41" height="11" fill="#ffa500"/>
<rect x="1649" y="397" width="41" height="11" fill="#0000ff"/>
<rect x="1649" y="434" width="41" height="11" fill="#0000ff"/>
</g>
<text x="1653" y="277" font-size="9.8" fill="#fff" text-anchor="start" textLength="32.5" lengthAdjust="spacingAndGlyphs" stroke="#fff" stroke-width="0.1">27207.2</text>
<text x="1653" y="314" font-size="9.8" fill="#fff" text-anchor="start" textLength="32.5" lengthAdjust="spacingAndGlyphs" stroke="#fff" stroke-width="0.1">27016.2</text>
<text x="1653" y="354" font-size="9.8" fill="#fff" text-anchor="start" textLength="32.5" lengthAdjust="spacingAndGlyphs" stroke="#fff" stroke-width="0.1">26812.5</text>
<text x="1653" y="371" font-size="9.8" fill="#fff" text-anchor="start" textLength="32.5" lengthAdjust="spacingAndGlyphs" stroke="#fff" stroke-width="0.1">26722.1</text>
<text x="1653" y="406" font-size="9.8" fill="#fff" text-anchor="start" textLength="32.5" lengthAdjust="spacingAndGlyphs" stroke="#fff" stroke-width="0.1">26541.4</text>
<text x="1653" y="443" font-size="9.8" fill="#fff" text-anchor="start" textLength="32.5" lengthAdjust="spacingAndGlyphs" stroke="#fff" stroke-width="0.1">26350.5</text>
<text x="3" y="38" font-size="9.8" fill="#000" text-anchor="start" textLength="197.5" lengthAdjust="spacingAndGlyphs" stroke="#000" stroke-width="0.1">JPN225-,H4&#160;&#160;26775.0 26862.5 26762.5 26812.5</text>
<g shape-rendering="crispEdges" clip-path="url(#cmacd)">
<rect x="3" y="661" width="3" height="22" fill="#00ff00"/>
<rect x="11" y="670" width="3" height="13" fill="#00ff00"/>
<rect x="19" y="679" width="3" height="4" fill="#00ff00"/>
<rect x="27" y="682" width="3" height="1" fill="#00ff00"/>
<rect x="35" y="683" width="3" height="6" fill="#00ff00"/>
<rect x="43" y="683" width="3" height="8" fill="#00ff00"/>
<rect x="51" y="683" width="3" height="6" fill="#00ff00"/>
<rect x="59" y="683" width="3" height="7" fill="#00ff00"/>
<rect x="67" y="683" width="3" height="6" fill="#00ff00"/>
<rect x="75" y="683" width="3" height="1" fill="#00ff00"/>
<rect x="83" y="676" width="3" height="7" fill="#00ff00"/>
<rect x="91" y="674" width="3" height="9" fill="#00ff00"/>
<rect x="99" y="675" width="3" height="8" fill="#00ff00"/>
<rect x="107" y="673" width="3" height="10" fill="#00ff00"/>
<rect x="115" y="666" width="3" height="17" fill="#00ff00"/>
<rect x="123" y="662" width="3" height="21" fill="#00ff00"/>
<rect x="131" y="658" width="3" height="25" fill="#00ff00"/>
<rect x="139" y="656" width="3" height="27" fill="#00ff00"/>
<rect x="147" y="652" width="3" height="31" fill="#00ff00"/>
<rect x="155" y="649" width="3" height="34" fill="#00ff00"/>
<rect x="163" y="649" width="3" height="34" fill="#00ff00"/>
<rect x="171" y="652" width="3" height="31" fill="#00ff00"/>
<rect x="179" y="656" width="3" height="27" fill="#00ff00"/>
<rect x="187" y="664" width="3" height="19" fill="#00ff00"/>
<rect x="195" y="670" width="3" height="13" fill="#00ff00"/>
<rect x="203" y="673" width="3" height="10" fill="#00ff00"/>
<rect x="211" y="674" width="3" height="9" fill="#00ff00"/>
<rect x="219" y="674" width="3" height="9" fill="#00ff00"/>
<rect x="227" y="678" width="3" height="5" fill="#00ff00"/>
<rect x="235" y="679" width="3" height="4" fill="#00ff00"/>
<rect x="243" y="678" width="3" height="5" fill="#00ff00"/>
<rect x="251" y="678" width="3" height="5" fill="#00ff00"/>
<rect x="259" y="679" width="3" height="4" fill="#00ff00"/>
<rect x="267" y="680" width="3" height="3" fill="#00ff00"/>
<rect x="275" y="682" width="3" height="1" fill="#00ff00"/>
<rect x="283" y="679" width="3" height="4" fill="#00ff00"/>
<rect x="291" y="675" width="3" height="8" fill="#00ff00"/>
<rect x="299" y="673" width="3" height="10" fill="#00ff00"/>
<rect x="307" y="670" width="3" height="13" fill="#00ff00"/>
<rect x="315" y="672" width="3" height="11" fill="#00ff00"/>
<rect x="323" y="671" width="3" height="12" fill="#00ff00"/>
<rect x="331" y="668" width="3" height="15" fill="#00ff00"/>
<rect x="339" y="665" width="3" height="18" fill="#00ff00"/>
<rect x="347" y="662" width="3" height="21" fill="#00ff00"/>
<rect x="355" y="660" width="3" height="23" fill="#00ff00"/>
<rect x="363" y="655" width="3" height="28" fill="#00ff00"/>
<rect x="371" y="651" width="3" height="32" fill="#00ff00"/>
<rect x="379" y="648" width="3" height="35" fill="#00ff00"/>
<rect x="387" y="646" width="3" height="37" fill="#00ff00"/>
<rect x="395" y="645" width="3" height="38" fill="#00ff00"/>
<rect x="403" y="645" width="3" height="38" fill="#00ff00"/>
<rect x="411" y="645" width="3" height="38" fill="#00ff00"/>
<rect x="419" y="649" width="3" height="34" fill="#00ff00"/>
<rect x="427" y="650" width="3" height="33" fill="#00ff00"/>
<rect x="435" y="654" width="3" height="29" fill="#00ff00"/>
<rect x="443" y="657" width="3" height="26" fill="#00ff00"/>
<rect x="451" y="657" width="3" height="26" fill="#00ff00"/>
<rect x="459" y="655" width="3" height="28" fill="#00ff00"/>
<rect x="467" y="654" width="3" height="29" fill="#00ff00"/>
<rect x="475" y="653" width="3" height="30" fill="#00ff00"/>
<rect x="483" y="651" width="3" height="32" fill="#00ff00"/>
<rect x="491" y="652" width="3" height="31" fill="#00ff00"/>
<rect x="499" y="654" width="3" height="29" fill="#00ff00"/>
<rect x="507" y="654" width="3" height="29" fill="#00ff00"/>
<rect x="515" y="654" width="3" height="29" fill="#00ff00"/>
<rect x="523" y="654" width="3" height="29" fill="#00ff00"/>
<rect x="531" y="651" width="3" height="32" fill="#00ff00"/>
<rect x="539" y="648" width="3" height="35" fill="#00ff00"/>
<rect x="547" y="646" width="3" height="37" fill="#00ff00"/>
<rect x="555" y="645" width="3" height="38" fill="#00ff00"/>
<rect x="563" y="646" width="3" height="37" fill="#00ff00"/>
<rect x="571" y="650" width="3" height="33" fill="#00ff00"/>
<rect x="579" y="652" width="3" height="31" fill="#00ff00"/>
<rect x="587" y="654" width="3" height="29" fill="#00ff00"/>
<rect x="595" y="657" width="3" height="26" fill="#00ff00"/>
<rect x="603" y="652" width="3" height="31" fill="#00ff00"/>
<rect x="611" y="648" width="3" height="35" fill="#00ff00"/>
<rect x="619" y="643" width="3" height="40" fill="#00ff00"/>
<rect x="627" y="641" width="3" height="42" fill="#00ff00"/>
<rect x="635" y="640" width="3" height="43" fill="#00ff00"/>
<rect x="643" y="640" width="3" height="43" fill="#00ff00"/>
<rect x="651" y="640" width="3" height="43" fill="#00ff00"/>
<rect x="659" y="640" width="3" height="43" fill="#00ff00"/>
<rect x="667" y="643" width="3" height="40" fill="#00ff00"/>
<rect x="675" y="644" width="3" height="39" fill="#00ff00"/>
<rect x="683" y="642" width="3" height="41" fill="#00ff00"/>
<rect x="691" y="644" width="3" height="39" fill="#00ff00"/>
<rect x="699" y="642" width="3" height="41" fill="#00ff00"/>
<rect x="707" y="642" width="3" height="41" fill="#00ff00"/>
<rect x="715" y="644" width="3" height="39" fill="#00ff00"/>
<rect x="723" y="646" width="3" height="37" fill="#00ff00"/>
<rect x="731" y="648" width="3" height="35" fill="#00ff00"/>
<rect x="739" y="649" width="3" height="34" fill="#00ff00"/>
<rect x="747" y="648" width="3" height="35" fill="#00ff00"/>
<rect x="755" y="646" width="3" height="37" fill="#00ff00"/>
<rect x="763" y="649" width="3" height="34" fill="#00ff00"/>
<rect x="771" y="653" width="3" height="30" fill="#00ff00"/>
<rect x="779" y="658" width="3" height="25" fill="#00ff00"/>
<rect x="787" y="662" width="3" height="21" fill="#00ff00"/>
<rect x="795" y="669" width="3" height="14" fill="#00ff00"/>
<rect x="803" y="676" width="3" height="7" fill="#00ff00"/>
<rect x="811" y="683" width="3" height="6" fill="#00ff00"/>
<rect x="819" y="683" width="3" height="16" fill="#00ff00"/>
<rect x="827" y="683" width="3" height="23" fill="#00ff00"/>
<rect x="835" y="683" width="3" height="34" fill="#00ff00"/>
<rect x="843" y="683" width="3" height="44" fill="#00ff00"/>
<rect x="851" y="683" width="3" height="56" fill="#00ff00"/>
<rect x="859" y="683" width="3" height="70" fill="#00ff00"/>
<rect x="867" y="683" width="3" height="80" fill="#00ff00"/>
<rect x="875" y="683" width="3" height="88" fill="#00ff00"/>
<rect x="883" y="683" width="3" height="93" fill="#00ff00"/>
<rect x="891" y="683" width="3" height="97" fill="#00ff00"/>
<rect x="899" y="683" width="3" height="97" fill="#00ff00"/>
<rect x="907" y="683" width="3" height="96" fill="#00ff00"/>
<rect x="915" y="683" width="3" height="97" fill="#00ff00"/>
<rect x="923" y="683" width="3" height="94" fill="#00ff00"/>
<rect x="931" y="683" width="3" height="89" fill="#00ff00"/>
<rect x="939" y="683" width="3" height="87" fill="#00ff00"/>
<rect x="947" y="683" width="3" height="87" fill="#00ff00"/>
<rect x="955" y="683" width="3" height="84" fill="#00ff00"/>
<rect x="963" y="683" width="3" height="79" fill="#00ff00"/>
<rect x="971" y="683" width="3" height="72" fill="#00ff00"/>
<rect x="979" y="683" width="3" height="62" fill="#00ff00"/>
<rect x="987" y="683" width="3" height="57" fill="#00ff00"/>
<rect x="995" y="683" width="3" height="68" fill="#00ff00"/>
<rect x="1003" y="683" width="3" height="79" fill="#00ff00"/>
<rect x="1011" y="683" width="3" height="87" fill="#00ff00"/>
<rect x="1019" y="683" width="3" height="90" fill="#00ff00"/>
<rect x="1027" y="683" width="3" height="90" fill="#00ff00"/>
<rect x="1035" y="683" width="3" height="87" fill="#00ff00"/>
<rect x="1043" y="683" width="3" height="79" fill="#00ff00"/>
<rect x="1051" y="683" width="3" height="78" fill="#00ff00"/>
<rect x="1059" y="683" width="3" height="72" fill="#00ff00"/>
<rect x="1067" y="683" width="3" height="67" fill="#00ff00"/>
<rect x="1075" y="683" width="3" height="59" fill="#00ff00"/>
<rect x="1083" y="683" width="3" height="63" fill="#00ff00"/>
<rect x="1091" y="683" width="3" height="60" fill="#00ff00"/>
<rect x="1099" y="683" width="3" height="55" fill="#00ff00"/>
<rect x="1107" y="683" width="3" height="50" fill="#00ff00"/>
<rect x="1115" y="683" width="3" height="46" fill="#00ff00"/>
<rect x="1123" y="683" width="3" height="41" fill="#00ff00"/>
<rect x="1131" y="683" width="3" height="32" fill="#00ff00"/>
<rect x="1139" y="683" width="3" height="23" fill="#00ff00"/>
<rect x="1147" y="683" width="3" height="15" fill="#00ff00"/>
<rect x="1155" y="683" width="3" height="7" fill="#00ff00"/>
<rect x="1163" y="683" width="3" height="1" fill="#00ff00"/>
<rect x="1171" y="680" width="3" height="3" fill="#00ff00"/>
<rect x="1179" y="682" width="3" height="1" fill="#00ff00"/>
<rect x="1187" y="683" width="3" height="2" fill="#00ff00"/>
<rect x="1195" y="683" width="3" height="1" fill="#00ff00"/>
<rect x="1203" y="680" width="3" height="3" fill="#00ff00"/>
<rect x="1211" y="681" width="3" height="2" fill="#00ff00"/>
<rect x="1219" y="683" width="3" height="1" fill="#00ff00"/>
<rect x="1227" y="683" width="3" height="6" fill="#00ff00"/>
<rect x="1235" y="683" width="3" height="5" fill="#00ff00"/>
<rect x="1243" y="683" width="3" height="5" fill="#00ff00"/>
<rect x="1251" y="683" width="3" height="6" fill="#00ff00"/>
<rect x="1259" y="683" width="3" height="6" fill="#00ff00"/>
<rect x="1267" y="683" width="3" height="6" fill="#00ff00"/>
<rect x="1275" y="683" width="3" height="2" fill="#00ff00"/>
<rect x="1283" y="678" width="3" height="5" fill="#00ff00"/>
<rect x="1291" y="669" width="3" height="14" fill="#00ff00"/>
<rect x="1299" y="662" width="3" height="21" fill="#00ff00"/>
<rect x="1307" y="655" width="3" height="28" fill="#00ff00"/>
</g>
<polyline clip-path="url(#cmacd)" points="0.0,653.0 20.0,657.3 40.0,663.7 60.0,674.0 68.0,682.1 76.0,684.6 84.0,685.3 92.0,684.7 100.0,684.0 108.0,682.2 116.0,679.5 124.0,676.5 132.0,673.0 140.0,669.4 148.0,665.8 156.0,662.8 164.0,660.1 172.0,657.5 180.0,655.6 188.0,655.4 196.0,656.3 204.0,657.9 212.0,660.0 220.0,662.4 228.0,665.6 236.0,668.9 244.0,671.8 252.0,674.3 260.0,675.9 268.0,677.0 276.0,678.0 284.0,678.6 292.0,678.7 300.0,678.1 308.0,677.2 316.0,676.5 324.0,675.8 332.0,674.6 340.0,672.9 348.0,670.7 356.0,668.6 364.0,666.4 372.0,664.0 380.0,661.5 388.0,658.6 396.0,655.8 404.0,653.2 412.0,651.0 420.0,649.6 428.0,648.5 436.0,648.3 444.0,649.0 452.0,649.9 460.0,650.9 468.0,651.9 476.0,652.7 484.0,653.4 492.0,653.7 500.0,654.1 508.0,654.1 516.0,653.8 524.0,653.5 532.0,653.0 540.0,652.4 548.0,651.6 556.0,651.0 564.0,650.3 572.0,649.9 580.0,649.7 588.0,649.7 596.0,650.0 604.0,650.1 612.0,650.1 620.0,649.8 628.0,649.3 636.0,648.6 644.0,647.5 652.0,646.1 660.0,644.6 668.0,643.0 676.0,642.1 684.0,641.4 692.0,641.6 700.0,641.7 708.0,641.9 716.0,642.3 724.0,643.0 732.0,643.9 740.0,644.6 748.0,645.1 756.0,645.5 764.0,646.1 772.0,647.3 780.0,649.1 788.0,651.1 796.0,653.7 804.0,656.8 812.0,661.2 820.0,666.8 828.0,673.4 836.0,680.9 844.0,689.1 852.0,698.1 860.0,708.1 868.0,718.6 876.0,729.1 884.0,738.8 892.0,747.7 900.0,756.0 908.0,762.9 916.0,768.8 924.0,773.0 932.0,775.1 940.0,775.8 948.0,775.7 956.0,774.7 964.0,772.7 972.0,770.0 980.0,766.2 988.0,761.8 996.0,758.9 1004.0,757.8 1012.0,757.8 1020.0,758.1 1028.0,758.8 1036.0,759.7 1044.0,760.5 1052.0,762.3 1060.0,763.9 1068.0,763.8 1076.0,761.6 1084.0,758.9 1092.0,755.6 1100.0,751.8 1108.0,747.6 1116.0,743.9 1124.0,739.8 1132.0,735.4 1140.0,730.5 1148.0,725.6 1156.0,719.3 1164.0,712.8 1172.0,706.3 1180.0,700.7 1188.0,695.8 1196.0,691.3 1204.0,687.5 1212.0,684.8 1220.0,683.2 1228.0,683.1 1236.0,683.6 1244.0,684.4 1252.0,685.1 1260.0,685.6 1268.0,686.2 1276.0,686.7 1284.0,686.3 1292.0,684.7 1300.0,681.8 1308.0,678.2" fill="none" stroke="#ff0000" stroke-width="2" stroke-linejoin="round" shape-rendering="crispEdges"/>
<text x="1" y="644" font-size="9.8" fill="#000" text-anchor="start" textLength="114.0" lengthAdjust="spacingAndGlyphs" stroke="#000" stroke-width="0.1">ACD(12,26,9) 119.09 22.32</text>
<g shape-rendering="crispEdges">
<rect x="1648" y="633" width="2" height="1" fill="#000"/>
<rect x="1648" y="683" width="2" height="1" fill="#000"/>
</g>
<text x="1651" y="642" font-size="9.8" fill="#000" text-anchor="start" textLength="27.0" lengthAdjust="spacingAndGlyphs" stroke="#000" stroke-width="0.1">216.31</text>
<text x="1651" y="687" font-size="9.8" fill="#000" text-anchor="start" textLength="17.5" lengthAdjust="spacingAndGlyphs" stroke="#000" stroke-width="0.1">0.00</text>
<text x="1651" y="784" font-size="9.8" fill="#000" text-anchor="start" textLength="32.0" lengthAdjust="spacingAndGlyphs" stroke="#000" stroke-width="0.1">-442.76</text>
<g shape-rendering="crispEdges">
<rect x="1" y="818" width="3" height="1" fill="#000"/>
<rect x="7" y="818" width="3" height="1" fill="#000"/>
<rect x="13" y="818" width="3" height="1" fill="#000"/>
<rect x="19" y="818" width="3" height="1" fill="#000"/>
<rect x="25" y="818" width="3" height="1" fill="#000"/>
<rect x="31" y="818" width="3" height="1" fill="#000"/>
<rect x="37" y="818" width="3" height="1" fill="#000"/>
<rect x="43" y="818" width="3" height="1" fill="#000"/>
<rect x="49" y="818" width="3" height="1" fill="#000"/>
<rect x="55" y="818" width="3" height="1" fill="#000"/>
<rect x="61" y="818" width="3" height="1" fill="#000"/>
<rect x="67" y="818" width="3" height="1" fill="#000"/>
<rect x="73" y="818" width="3" height="1" fill="#000"/>
<rect x="79" y="818" width="3" height="1" fill="#000"/>
<rect x="85" y="818" width="3" height="1" fill="#000"/>
<rect x="91" y="818" width="3" height="1" fill="#000"/>
<rect x="97" y="818" width="3" height="1" fill="#000"/>
<rect x="103" y="818" width="3" height="1" fill="#000"/>
<rect x="109" y="818" width="3" height="1" fill="#000"/>
<rect x="115" y="818" width="3" height="1" fill="#000"/>
<rect x="121" y="818" width="3" height="1" fill="#000"/>
<rect x="127" y="818" width="3" height="1" fill="#000"/>
<rect x="133" y="818" width="3" height="1" fill="#000"/>
<rect x="139" y="818" width="3" height="1" fill="#000"/>
<rect x="145" y="818" width="3" height="1" fill="#000"/>
<rect x="151" y="818" width="3" height="1" fill="#000"/>
<rect x="157" y="818" width="3" height="1" fill="#000"/>
<rect x="163" y="818" width="3" height="1" fill="#000"/>
<rect x="169" y="818" width="3" height="1" fill="#000"/>
<rect x="175" y="818" width="3" height="1" fill="#000"/>
<rect x="181" y="818" width="3" height="1" fill="#000"/>
<rect x="187" y="818" width="3" height="1" fill="#000"/>
<rect x="193" y="818" width="3" height="1" fill="#000"/>
<rect x="199" y="818" width="3" height="1" fill="#000"/>
<rect x="205" y="818" width="3" height="1" fill="#000"/>
<rect x="211" y="818" width="3" height="1" fill="#000"/>
<rect x="217" y="818" width="3" height="1" fill="#000"/>
<rect x="223" y="818" width="3" height="1" fill="#000"/>
<rect x="229" y="818" width="3" height="1" fill="#000"/>
<rect x="235" y="818" width="3" height="1" fill="#000"/>
<rect x="241" y="818" width="3" height="1" fill="#000"/>
<rect x="247" y="818" width="3" height="1" fill="#000"/>
<rect x="253" y="818" width="3" height="1" fill="#000"/>
<rect x="259" y="818" width="3" height="1" fill="#000"/>
<rect x="265" y="818" width="3" height="1" fill="#000"/>
<rect x="271" y="818" width="3" height="1" fill="#000"/>
<rect x="277" y="818" width="3" height="1" fill="#000"/>
<rect x="283" y="818" width="3" height="1" fill="#000"/>
<rect x="289" y="818" width="3" height="1" fill="#000"/>
<rect x="295" y="818" width="3" height="1" fill="#000"/>
<rect x="301" y="818" width="3" height="1" fill="#000"/>
<rect x="307" y="818" width="3" height="1" fill="#000"/>
<rect x="313" y="818" width="3" height="1" fill="#000"/>
<rect x="319" y="818" width="3" height="1" fill="#000"/>
<rect x="325" y="818" width="3" height="1" fill="#000"/>
<rect x="331" y="818" width="3" height="1" fill="#000"/>
<rect x="337" y="818" width="3" height="1" fill="#000"/>
<rect x="343" y="818" width="3" height="1" fill="#000"/>
<rect x="349" y="818" width="3" height="1" fill="#000"/>
<rect x="355" y="818" width="3" height="1" fill="#000"/>
<rect x="361" y="818" width="3" height="1" fill="#000"/>
<rect x="367" y="818" width="3" height="1" fill="#000"/>
<rect x="373" y="818" width="3" height="1" fill="#000"/>
<rect x="379" y="818" width="3" height="1" fill="#000"/>
<rect x="385" y="818" width="3" height="1" fill="#000"/>
<rect x="391" y="818" width="3" height="1" fill="#000"/>
<rect x="397" y="818" width="3" height="1" fill="#000"/>
<rect x="403" y="818" width="3" height="1" fill="#000"/>
<rect x="409" y="818" width="3" height="1" fill="#000"/>
<rect x="415" y="818" width="3" height="1" fill="#000"/>
<rect x="421" y="818" width="3" height="1" fill="#000"/>
<rect x="427" y="818" width="3" height="1" fill="#000"/>
<rect x="433" y="818" width="3" height="1" fill="#000"/>
<rect x="439" y="818" width="3" height="1" fill="#000"/>
<rect x="445" y="818" width="3" height="1" fill="#000"/>
<rect x="451" y="818" width="3" height="1" fill="#000"/>
<rect x="457" y="818" width="3" height="1" fill="#000"/>
<rect x="463" y="818" width="3" height="1" fill="#000"/>
<rect x="469" y="818" width="3" height="1" fill="#000"/>
<rect x="475" y="818" width="3" height="1" fill="#000"/>
<rect x="481" y="818" width="3" height="1" fill="#000"/>
<rect x="487" y="818" width="3" height="1" fill="#000"/>
<rect x="493" y="818" width="3" height="1" fill="#000"/>
<rect x="499" y="818" width="3" height="1" fill="#000"/>
<rect x="505" y="818" width="3" height="1" fill="#000"/>
<rect x="511" y="818" width="3" height="1" fill="#000"/>
<rect x="517" y="818" width="3" height="1" fill="#000"/>
<rect x="523" y="818" width="3" height="1" fill="#000"/>
<rect x="529" y="818" width="3" height="1" fill="#000"/>
<rect x="535" y="818" width="3" height="1" fill="#000"/>
<rect x="541" y="818" width="3" height="1" fill="#000"/>
<rect x="547" y="818" width="3" height="1" fill="#000"/>
<rect x="553" y="818" width="3" height="1" fill="#000"/>
<rect x="559" y="818" width="3" height="1" fill="#000"/>
<rect x="565" y="818" width="3" height="1" fill="#000"/>
<rect x="571" y="818" width="3" height="1" fill="#000"/>
<rect x="577" y="818" width="3" height="1" fill="#000"/>
<rect x="583" y="818" width="3" height="1" fill="#000"/>
<rect x="589" y="818" width="3" height="1" fill="#000"/>
<rect x="595" y="818" width="3" height="1" fill="#000"/>
<rect x="601" y="818" width="3" height="1" fill="#000"/>
<rect x="607" y="818" width="3" height="1" fill="#000"/>
<rect x="613" y="818" width="3" height="1" fill="#000"/>
<rect x="619" y="818" width="3" height="1" fill="#000"/>
<rect x="625" y="818" width="3" height="1" fill="#000"/>
<rect x="631" y="818" width="3" height="1" fill="#000"/>
<rect x="637" y="818" width="3" height="1" fill="#000"/>
<rect x="643" y="818" width="3" height="1" fill="#000"/>
<rect x="649" y="818" width="3" height="1" fill="#000"/>
<rect x="655" y="818" width="3" height="1" fill="#000"/>
<rect x="661" y="818" width="3" height="1" fill="#000"/>
<rect x="667" y="818" width="3" height="1" fill="#000"/>
<rect x="673" y="818" width="3" height="1" fill="#000"/>
<rect x="679" y="818" width="3" height="1" fill="#000"/>
<rect x="685" y="818" width="3" height="1" fill="#000"/>
<rect x="691" y="818" width="3" height="1" fill="#000"/>
<rect x="697" y="818" width="3" height="1" fill="#000"/>
<rect x="703" y="818" width="3" height="1" fill="#000"/>
<rect x="709" y="818" width="3" height="1" fill="#000"/>
<rect x="715" y="818" width="3" height="1" fill="#000"/>
<rect x="721" y="818" width="3" height="1" fill="#000"/>
<rect x="727" y="818" width="3" height="1" fill="#000"/>
<rect x="733" y="818" width="3" height="1" fill="#000"/>
<rect x="739" y="818" width="3" height="1" fill="#000"/>
<rect x="745" y="818" width="3" height="1" fill="#000"/>
<rect x="751" y="818" width="3" height="1" fill="#000"/>
<rect x="757" y="818" width="3" height="1" fill="#000"/>
<rect x="763" y="818" width="3" height="1" fill="#000"/>
<rect x="769" y="818" width="3" height="1" fill="#000"/>
<rect x="775" y="818" width="3" height="1" fill="#000"/>
<rect x="781" y="818" width="3" height="1" fill="#000"/>
<rect x="787" y="818" width="3" height="1" fill="#000"/>
<rect x="793" y="818" width="3" height="1" fill="#000"/>
<rect x="799" y="818" width="3" height="1" fill="#000"/>
<rect x="805" y="818" width="3" height="1" fill="#000"/>
<rect x="811" y="818" width="3" height="1" fill="#000"/>
<rect x="817" y="818" width="3" height="1" fill="#000"/>
<rect x="823" y="818" width="3" height="1" fill="#000"/>
<rect x="829" y="818" width="3" height="1" fill="#000"/>
<rect x="835" y="818" width="3" height="1" fill="#000"/>
<rect x="841" y="818" width="3" height="1" fill="#000"/>
<rect x="847" y="818" width="3" height="1" fill="#000"/>
<rect x="853" y="818" width="3" height="1" fill="#000"/>
<rect x="859" y="818" width="3" height="1" fill="#000"/>
<rect x="865" y="818" width="3" height="1" fill="#000"/>
<rect x="871" y="818" width="3" height="1" fill="#000"/>
<rect x="877" y="818" width="3" height="1" fill="#000"/>
<rect x="883" y="818" width="3" height="1" fill="#000"/>
<rect x="889" y="818" width="3" height="1" fill="#000"/>
<rect x="895" y="818" width="3" height="1" fill="#000"/>
<rect x="901" y="818" width="3" height="1" fill="#000"/>
<rect x="907" y="818" width="3" height="1" fill="#000"/>
<rect x="913" y="818" width="3" height="1" fill="#000"/>
<rect x="919" y="818" width="3" height="1" fill="#000"/>
<rect x="925" y="818" width="3" height="1" fill="#000"/>
<rect x="931" y="818" width="3" height="1" fill="#000"/>
<rect x="937" y="818" width="3" height="1" fill="#000"/>
<rect x="943" y="818" width="3" height="1" fill="#000"/>
<rect x="949" y="818" width="3" height="1" fill="#000"/>
<rect x="955" y="818" width="3" height="1" fill="#000"/>
<rect x="961" y="818" width="3" height="1" fill="#000"/>
<rect x="967" y="818" width="3" height="1" fill="#000"/>
<rect x="973" y="818" width="3" height="1" fill="#000"/>
<rect x="979" y="818" width="3" height="1" fill="#000"/>
<rect x="985" y="818" width="3" height="1" fill="#000"/>
<rect x="991" y="818" width="3" height="1" fill="#000"/>
<rect x="997" y="818" width="3" height="1" fill="#000"/>
<rect x="1003" y="818" width="3" height="1" fill="#000"/>
<rect x="1009" y="818" width="3" height="1" fill="#000"/>
<rect x="1015" y="818" width="3" height="1" fill="#000"/>
<rect x="1021" y="818" width="3" height="1" fill="#000"/>
<rect x="1027" y="818" width="3" height="1" fill="#000"/>
<rect x="1033" y="818" width="3" height="1" fill="#000"/>
<rect x="1039" y="818" width="3" height="1" fill="#000"/>
<rect x="1045" y="818" width="3" height="1" fill="#000"/>
<rect x="1051" y="818" width="3" height="1" fill="#000"/>
<rect x="1057" y="818" width="3" height="1" fill="#000"/>
<rect x="1063" y="818" width="3" height="1" fill="#000"/>
<rect x="1069" y="818" width="3" height="1" fill="#000"/>
<rect x="1075" y="818" width="3" height="1" fill="#000"/>
<rect x="1081" y="818" width="3" height="1" fill="#000"/>
<rect x="1087" y="818" width="3" height="1" fill="#000"/>
<rect x="1093" y="818" width="3" height="1" fill="#000"/>
<rect x="1099" y="818" width="3" height="1" fill="#000"/>
<rect x="1105" y="818" width="3" height="1" fill="#000"/>
<rect x="1111" y="818" width="3" height="1" fill="#000"/>
<rect x="1117" y="818" width="3" height="1" fill="#000"/>
<rect x="1123" y="818" width="3" height="1" fill="#000"/>
<rect x="1129" y="818" width="3" height="1" fill="#000"/>
<rect x="1135" y="818" width="3" height="1" fill="#000"/>
<rect x="1141" y="818" width="3" height="1" fill="#000"/>
<rect x="1147" y="818" width="3" height="1" fill="#000"/>
<rect x="1153" y="818" width="3" height="1" fill="#000"/>
<rect x="1159" y="818" width="3" height="1" fill="#000"/>
<rect x="1165" y="818" width="3" height="1" fill="#000"/>
<rect x="1171" y="818" width="3" height="1" fill="#000"/>
<rect x="1177" y="818" width="3" height="1" fill="#000"/>
<rect x="1183" y="818" width="3" height="1" fill="#000"/>
<rect x="1189" y="818" width="3" height="1" fill="#000"/>
<rect x="1195" y="818" width="3" height="1" fill="#000"/>
<rect x="1201" y="818" width="3" height="1" fill="#000"/>
<rect x="1207" y="818" width="3" height="1" fill="#000"/>
<rect x="1213" y="818" width="3" height="1" fill="#000"/>
<rect x="1219" y="818" width="3" height="1" fill="#000"/>
<rect x="1225" y="818" width="3" height="1" fill="#000"/>
<rect x="1231" y="818" width="3" height="1" fill="#000"/>
<rect x="1237" y="818" width="3" height="1" fill="#000"/>
<rect x="1243" y="818" width="3" height="1" fill="#000"/>
<rect x="1249" y="818" width="3" height="1" fill="#000"/>
<rect x="1255" y="818" width="3" height="1" fill="#000"/>
<rect x="1261" y="818" width="3" height="1" fill="#000"/>
<rect x="1267" y="818" width="3" height="1" fill="#000"/>
<rect x="1273" y="818" width="3" height="1" fill="#000"/>
<rect x="1279" y="818" width="3" height="1" fill="#000"/>
<rect x="1285" y="818" width="3" height="1" fill="#000"/>
<rect x="1291" y="818" width="3" height="1" fill="#000"/>
<rect x="1297" y="818" width="3" height="1" fill="#000"/>
<rect x="1303" y="818" width="3" height="1" fill="#000"/>
<rect x="1309" y="818" width="3" height="1" fill="#000"/>
<rect x="1315" y="818" width="3" height="1" fill="#000"/>
<rect x="1321" y="818" width="3" height="1" fill="#000"/>
<rect x="1327" y="818" width="3" height="1" fill="#000"/>
<rect x="1333" y="818" width="3" height="1" fill="#000"/>
<rect x="1339" y="818" width="3" height="1" fill="#000"/>
<rect x="1345" y="818" width="3" height="1" fill="#000"/>
<rect x="1351" y="818" width="3" height="1" fill="#000"/>
<rect x="1357" y="818" width="3" height="1" fill="#000"/>
<rect x="1363" y="818" width="3" height="1" fill="#000"/>
<rect x="1369" y="818" width="3" height="1" fill="#000"/>
<rect x="1375" y="818" width="3" height="1" fill="#000"/>
<rect x="1381" y="818" width="3" height="1" fill="#000"/>
<rect x="1387" y="818" width="3" height="1" fill="#000"/>
<rect x="1393" y="818" width="3" height="1" fill="#000"/>
<rect x="1399" y="818" width="3" height="1" fill="#000"/>
<rect x="1405" y="818" width="3" height="1" fill="#000"/>
<rect x="1411" y="818" width="3" height="1" fill="#000"/>
<rect x="1417" y="818" width="3" height="1" fill="#000"/>
<rect x="1423" y="818" width="3" height="1" fill="#000"/>
<rect x="1429" y="818" width="3" height="1" fill="#000"/>
<rect x="1435" y="818" width="3" height="1" fill="#000"/>
<rect x="1441" y="818" width="3" height="1" fill="#000"/>
<rect x="1447" y="818" width="3" height="1" fill="#000"/>
<rect x="1453" y="818" width="3" height="1" fill="#000"/>
<rect x="1459" y="818" width="3" height="1" fill="#000"/>
<rect x="1465" y="818" width="3" height="1" fill="#000"/>
<rect x="1471" y="818" width="3" height="1" fill="#000"/>
<rect x="1477" y="818" width="3" height="1" fill="#000"/>
<rect x="1483" y="818" width="3" height="1" fill="#000"/>
<rect x="1489" y="818" width="3" height="1" fill="#000"/>
<rect x="1495" y="818" width="3" height="1" fill="#000"/>
<rect x="1501" y="818" width="3" height="1" fill="#000"/>
<rect x="1507" y="818" width="3" height="1" fill="#000"/>
<rect x="1513" y="818" width="3" height="1" fill="#000"/>
<rect x="1519" y="818" width="3" height="1" fill="#000"/>
<rect x="1525" y="818" width="3" height="1" fill="#000"/>
<rect x="1531" y="818" width="3" height="1" fill="#000"/>
<rect x="1537" y="818" width="3" height="1" fill="#000"/>
<rect x="1543" y="818" width="3" height="1" fill="#000"/>
<rect x="1549" y="818" width="3" height="1" fill="#000"/>
<rect x="1555" y="818" width="3" height="1" fill="#000"/>
<rect x="1561" y="818" width="3" height="1" fill="#000"/>
<rect x="1567" y="818" width="3" height="1" fill="#000"/>
<rect x="1573" y="818" width="3" height="1" fill="#000"/>
<rect x="1579" y="818" width="3" height="1" fill="#000"/>
<rect x="1585" y="818" width="3" height="1" fill="#000"/>
<rect x="1591" y="818" width="3" height="1" fill="#000"/>
<rect x="1597" y="818" width="3" height="1" fill="#000"/>
<rect x="1603" y="818" width="3" height="1" fill="#000"/>
<rect x="1609" y="818" width="3" height="1" fill="#000"/>
<rect x="1615" y="818" width="3" height="1" fill="#000"/>
<rect x="1621" y="818" width="3" height="1" fill="#000"/>
<rect x="1627" y="818" width="3" height="1" fill="#000"/>
<rect x="1633" y="818" width="3" height="1" fill="#000"/>
<rect x="1639" y="818" width="3" height="1" fill="#000"/>
<rect x="1645" y="818" width="3" height="1" fill="#000"/>
<rect x="1" y="858" width="3" height="1" fill="#000"/>
<rect x="7" y="858" width="3" height="1" fill="#000"/>
<rect x="13" y="858" width="3" height="1" fill="#000"/>
<rect x="19" y="858" width="3" height="1" fill="#000"/>
<rect x="25" y="858" width="3" height="1" fill="#000"/>
<rect x="31" y="858" width="3" height="1" fill="#000"/>
<rect x="37" y="858" width="3" height="1" fill="#000"/>
<rect x="43" y="858" width="3" height="1" fill="#000"/>
<rect x="49" y="858" width="3" height="1" fill="#000"/>
<rect x="55" y="858" width="3" height="1" fill="#000"/>
<rect x="61" y="858" width="3" height="1" fill="#000"/>
<rect x="67" y="858" width="3" height="1" fill="#000"/>
<rect x="73" y="858" width="3" height="1" fill="#000"/>
<rect x="79" y="858" width="3" height="1" fill="#000"/>
<rect x="85" y="858" width="3" height="1" fill="#000"/>
<rect x="91" y="858" width="3" height="1" fill="#000"/>
<rect x="97" y="858" width="3" height="1" fill="#000"/>
<rect x="103" y="858" width="3" height="1" fill="#000"/>
<rect x="109" y="858" width="3" height="1" fill="#000"/>
<rect x="115" y="858" width="3" height="1" fill="#000"/>
<rect x="121" y="858" width="3" height="1" fill="#000"/>
<rect x="127" y="858" width="3" height="1" fill="#000"/>
<rect x="133" y="858" width="3" height="1" fill="#000"/>
<rect x="139" y="858" width="3" height="1" fill="#000"/>
<rect x="145" y="858" width="3" height="1" fill="#000"/>
<rect x="151" y="858" width="3" height="1" fill="#000"/>
<rect x="157" y="858" width="3" height="1" fill="#000"/>
<rect x="163" y="858" width="3" height="1" fill="#000"/>
<rect x="169" y="858" width="3" height="1" fill="#000"/>
<rect x="175" y="858" width="3" height="1" fill="#000"/>
<rect x="181" y="858" width="3" height="1" fill="#000"/>
<rect x="187" y="858" width="3" height="1" fill="#000"/>
<rect x="193" y="858" width="3" height="1" fill="#000"/>
<rect x="199" y="858" width="3" height="1" fill="#000"/>
<rect x="205" y="858" width="3" height="1" fill="#000"/>
<rect x="211" y="858" width="3" height="1" fill="#000"/>
<rect x="217" y="858" width="3" height="1" fill="#000"/>
<rect x="223" y="858" width="3" height="1" fill="#000"/>
<rect x="229" y="858" width="3" height="1" fill="#000"/>
<rect x="235" y="858" width="3" height="1" fill="#000"/>
<rect x="241" y="858" width="3" height="1" fill="#000"/>
<rect x="247" y="858" width="3" height="1" fill="#000"/>
<rect x="253" y="858" width="3" height="1" fill="#000"/>
<rect x="259" y="858" width="3" height="1" fill="#000"/>
<rect x="265" y="858" width="3" height="1" fill="#000"/>
<rect x="271" y="858" width="3" height="1" fill="#000"/>
<rect x="277" y="858" width="3" height="1" fill="#000"/>
<rect x="283" y="858" width="3" height="1" fill="#000"/>
<rect x="289" y="858" width="3" height="1" fill="#000"/>
<rect x="295" y="858" width="3" height="1" fill="#000"/>
<rect x="301" y="858" width="3" height="1" fill="#000"/>
<rect x="307" y="858" width="3" height="1" fill="#000"/>
<rect x="313" y="858" width="3" height="1" fill="#000"/>
<rect x="319" y="858" width="3" height="1" fill="#000"/>
<rect x="325" y="858" width="3" height="1" fill="#000"/>
<rect x="331" y="858" width="3" height="1" fill="#000"/>
<rect x="337" y="858" width="3" height="1" fill="#000"/>
<rect x="343" y="858" width="3" height="1" fill="#000"/>
<rect x="349" y="858" width="3" height="1" fill="#000"/>
<rect x="355" y="858" width="3" height="1" fill="#000"/>
<rect x="361" y="858" width="3" height="1" fill="#000"/>
<rect x="367" y="858" width="3" height="1" fill="#000"/>
<rect x="373" y="858" width="3" height="1" fill="#000"/>
<rect x="379" y="858" width="3" height="1" fill="#000"/>
<rect x="385" y="858" width="3" height="1" fill="#000"/>
<rect x="391" y="858" width="3" height="1" fill="#000"/>
<rect x="397" y="858" width="3" height="1" fill="#000"/>
<rect x="403" y="858" width="3" height="1" fill="#000"/>
<rect x="409" y="858" width="3" height="1" fill="#000"/>
<rect x="415" y="858" width="3" height="1" fill="#000"/>
<rect x="421" y="858" width="3" height="1" fill="#000"/>
<rect x="427" y="858" width="3" height="1" fill="#000"/>
<rect x="433" y="858" width="3" height="1" fill="#000"/>
<rect x="439" y="858" width="3" height="1" fill="#000"/>
<rect x="445" y="858" width="3" height="1" fill="#000"/>
<rect x="451" y="858" width="3" height="1" fill="#000"/>
<rect x="457" y="858" width="3" height="1" fill="#000"/>
<rect x="463" y="858" width="3" height="1" fill="#000"/>
<rect x="469" y="858" width="3" height="1" fill="#000"/>
<rect x="475" y="858" width="3" height="1" fill="#000"/>
<rect x="481" y="858" width="3" height="1" fill="#000"/>
<rect x="487" y="858" width="3" height="1" fill="#000"/>
<rect x="493" y="858" width="3" height="1" fill="#000"/>
<rect x="499" y="858" width="3" height="1" fill="#000"/>
<rect x="505" y="858" width="3" height="1" fill="#000"/>
<rect x="511" y="858" width="3" height="1" fill="#000"/>
<rect x="517" y="858" width="3" height="1" fill="#000"/>
<rect x="523" y="858" width="3" height="1" fill="#000"/>
<rect x="529" y="858" width="3" height="1" fill="#000"/>
<rect x="535" y="858" width="3" height="1" fill="#000"/>
<rect x="541" y="858" width="3" height="1" fill="#000"/>
<rect x="547" y="858" width="3" height="1" fill="#000"/>
<rect x="553" y="858" width="3" height="1" fill="#000"/>
<rect x="559" y="858" width="3" height="1" fill="#000"/>
<rect x="565" y="858" width="3" height="1" fill="#000"/>
<rect x="571" y="858" width="3" height="1" fill="#000"/>
<rect x="577" y="858" width="3" height="1" fill="#000"/>
<rect x="583" y="858" width="3" height="1" fill="#000"/>
<rect x="589" y="858" width="3" height="1" fill="#000"/>
<rect x="595" y="858" width="3" height="1" fill="#000"/>
<rect x="601" y="858" width="3" height="1" fill="#000"/>
<rect x="607" y="858" width="3" height="1" fill="#000"/>
<rect x="613" y="858" width="3" height="1" fill="#000"/>
<rect x="619" y="858" width="3" height="1" fill="#000"/>
<rect x="625" y="858" width="3" height="1" fill="#000"/>
<rect x="631" y="858" width="3" height="1" fill="#000"/>
<rect x="637" y="858" width="3" height="1" fill="#000"/>
<rect x="643" y="858" width="3" height="1" fill="#000"/>
<rect x="649" y="858" width="3" height="1" fill="#000"/>
<rect x="655" y="858" width="3" height="1" fill="#000"/>
<rect x="661" y="858" width="3" height="1" fill="#000"/>
<rect x="667" y="858" width="3" height="1" fill="#000"/>
<rect x="673" y="858" width="3" height="1" fill="#000"/>
<rect x="679" y="858" width="3" height="1" fill="#000"/>
<rect x="685" y="858" width="3" height="1" fill="#000"/>
<rect x="691" y="858" width="3" height="1" fill="#000"/>
<rect x="697" y="858" width="3" height="1" fill="#000"/>
<rect x="703" y="858" width="3" height="1" fill="#000"/>
<rect x="709" y="858" width="3" height="1" fill="#000"/>
<rect x="715" y="858" width="3" height="1" fill="#000"/>
<rect x="721" y="858" width="3" height="1" fill="#000"/>
<rect x="727" y="858" width="3" height="1" fill="#000"/>
<rect x="733" y="858" width="3" height="1" fill="#000"/>
<rect x="739" y="858" width="3" height="1" fill="#000"/>
<rect x="745" y="858" width="3" height="1" fill="#000"/>
<rect x="751" y="858" width="3" height="1" fill="#000"/>
<rect x="757" y="858" width="3" height="1" fill="#000"/>
<rect x="763" y="858" width="3" height="1" fill="#000"/>
<rect x="769" y="858" width="3" height="1" fill="#000"/>
<rect x="775" y="858" width="3" height="1" fill="#000"/>
<rect x="781" y="858" width="3" height="1" fill="#000"/>
<rect x="787" y="858" width="3" height="1" fill="#000"/>
<rect x="793" y="858" width="3" height="1" fill="#000"/>
<rect x="799" y="858" width="3" height="1" fill="#000"/>
<rect x="805" y="858" width="3" height="1" fill="#000"/>
<rect x="811" y="858" width="3" height="1" fill="#000"/>
<rect x="817" y="858" width="3" height="1" fill="#000"/>
<rect x="823" y="858" width="3" height="1" fill="#000"/>
<rect x="829" y="858" width="3" height="1" fill="#000"/>
<rect x="835" y="858" width="3" height="1" fill="#000"/>
<rect x="841" y="858" width="3" height="1" fill="#000"/>
<rect x="847" y="858" width="3" height="1" fill="#000"/>
<rect x="853" y="858" width="3" height="1" fill="#000"/>
<rect x="859" y="858" width="3" height="1" fill="#000"/>
<rect x="865" y="858" width="3" height="1" fill="#000"/>
<rect x="871" y="858" width="3" height="1" fill="#000"/>
<rect x="877" y="858" width="3" height="1" fill="#000"/>
<rect x="883" y="858" width="3" height="1" fill="#000"/>
<rect x="889" y="858" width="3" height="1" fill="#000"/>
<rect x="895" y="858" width="3" height="1" fill="#000"/>
<rect x="901" y="858" width="3" height="1" fill="#000"/>
<rect x="907" y="858" width="3" height="1" fill="#000"/>
<rect x="913" y="858" width="3" height="1" fill="#000"/>
<rect x="919" y="858" width="3" height="1" fill="#000"/>
<rect x="925" y="858" width="3" height="1" fill="#000"/>
<rect x="931" y="858" width="3" height="1" fill="#000"/>
<rect x="937" y="858" width="3" height="1" fill="#000"/>
<rect x="943" y="858" width="3" height="1" fill="#000"/>
<rect x="949" y="858" width="3" height="1" fill="#000"/>
<rect x="955" y="858" width="3" height="1" fill="#000"/>
<rect x="961" y="858" width="3" height="1" fill="#000"/>
<rect x="967" y="858" width="3" height="1" fill="#000"/>
<rect x="973" y="858" width="3" height="1" fill="#000"/>
<rect x="979" y="858" width="3" height="1" fill="#000"/>
<rect x="985" y="858" width="3" height="1" fill="#000"/>
<rect x="991" y="858" width="3" height="1" fill="#000"/>
<rect x="997" y="858" width="3" height="1" fill="#000"/>
<rect x="1003" y="858" width="3" height="1" fill="#000"/>
<rect x="1009" y="858" width="3" height="1" fill="#000"/>
<rect x="1015" y="858" width="3" height="1" fill="#000"/>
<rect x="1021" y="858" width="3" height="1" fill="#000"/>
<rect x="1027" y="858" width="3" height="1" fill="#000"/>
<rect x="1033" y="858" width="3" height="1" fill="#000"/>
<rect x="1039" y="858" width="3" height="1" fill="#000"/>
<rect x="1045" y="858" width="3" height="1" fill="#000"/>
<rect x="1051" y="858" width="3" height="1" fill="#000"/>
<rect x="1057" y="858" width="3" height="1" fill="#000"/>
<rect x="1063" y="858" width="3" height="1" fill="#000"/>
<rect x="1069" y="858" width="3" height="1" fill="#000"/>
<rect x="1075" y="858" width="3" height="1" fill="#000"/>
<rect x="1081" y="858" width="3" height="1" fill="#000"/>
<rect x="1087" y="858" width="3" height="1" fill="#000"/>
<rect x="1093" y="858" width="3" height="1" fill="#000"/>
<rect x="1099" y="858" width="3" height="1" fill="#000"/>
<rect x="1105" y="858" width="3" height="1" fill="#000"/>
<rect x="1111" y="858" width="3" height="1" fill="#000"/>
<rect x="1117" y="858" width="3" height="1" fill="#000"/>
<rect x="1123" y="858" width="3" height="1" fill="#000"/>
<rect x="1129" y="858" width="3" height="1" fill="#000"/>
<rect x="1135" y="858" width="3" height="1" fill="#000"/>
<rect x="1141" y="858" width="3" height="1" fill="#000"/>
<rect x="1147" y="858" width="3" height="1" fill="#000"/>
<rect x="1153" y="858" width="3" height="1" fill="#000"/>
<rect x="1159" y="858" width="3" height="1" fill="#000"/>
<rect x="1165" y="858" width="3" height="1" fill="#000"/>
<rect x="1171" y="858" width="3" height="1" fill="#000"/>
<rect x="1177" y="858" width="3" height="1" fill="#000"/>
<rect x="1183" y="858" width="3" height="1" fill="#000"/>
<rect x="1189" y="858" width="3" height="1" fill="#000"/>
<rect x="1195" y="858" width="3" height="1" fill="#000"/>
<rect x="1201" y="858" width="3" height="1" fill="#000"/>
<rect x="1207" y="858" width="3" height="1" fill="#000"/>
<rect x="1213" y="858" width="3" height="1" fill="#000"/>
<rect x="1219" y="858" width="3" height="1" fill="#000"/>
<rect x="1225" y="858" width="3" height="1" fill="#000"/>
<rect x="1231" y="858" width="3" height="1" fill="#000"/>
<rect x="1237" y="858" width="3" height="1" fill="#000"/>
<rect x="1243" y="858" width="3" height="1" fill="#000"/>
<rect x="1249" y="858" width="3" height="1" fill="#000"/>
<rect x="1255" y="858" width="3" height="1" fill="#000"/>
<rect x="1261" y="858" width="3" height="1" fill="#000"/>
<rect x="1267" y="858" width="3" height="1" fill="#000"/>
<rect x="1273" y="858" width="3" height="1" fill="#000"/>
<rect x="1279" y="858" width="3" height="1" fill="#000"/>
<rect x="1285" y="858" width="3" height="1" fill="#000"/>
<rect x="1291" y="858" width="3" height="1" fill="#000"/>
<rect x="1297" y="858" width="3" height="1" fill="#000"/>
<rect x="1303" y="858" width="3" height="1" fill="#000"/>
<rect x="1309" y="858" width="3" height="1" fill="#000"/>
<rect x="1315" y="858" width="3" height="1" fill="#000"/>
<rect x="1321" y="858" width="3" height="1" fill="#000"/>
<rect x="1327" y="858" width="3" height="1" fill="#000"/>
<rect x="1333" y="858" width="3" height="1" fill="#000"/>
<rect x="1339" y="858" width="3" height="1" fill="#000"/>
<rect x="1345" y="858" width="3" height="1" fill="#000"/>
<rect x="1351" y="858" width="3" height="1" fill="#000"/>
<rect x="1357" y="858" width="3" height="1" fill="#000"/>
<rect x="1363" y="858" width="3" height="1" fill="#000"/>
<rect x="1369" y="858" width="3" height="1" fill="#000"/>
<rect x="1375" y="858" width="3" height="1" fill="#000"/>
<rect x="1381" y="858" width="3" height="1" fill="#000"/>
<rect x="1387" y="858" width="3" height="1" fill="#000"/>
<rect x="1393" y="858" width="3" height="1" fill="#000"/>
<rect x="1399" y="858" width="3" height="1" fill="#000"/>
<rect x="1405" y="858" width="3" height="1" fill="#000"/>
<rect x="1411" y="858" width="3" height="1" fill="#000"/>
<rect x="1417" y="858" width="3" height="1" fill="#000"/>
<rect x="1423" y="858" width="3" height="1" fill="#000"/>
<rect x="1429" y="858" width="3" height="1" fill="#000"/>
<rect x="1435" y="858" width="3" height="1" fill="#000"/>
<rect x="1441" y="858" width="3" height="1" fill="#000"/>
<rect x="1447" y="858" width="3" height="1" fill="#000"/>
<rect x="1453" y="858" width="3" height="1" fill="#000"/>
<rect x="1459" y="858" width="3" height="1" fill="#000"/>
<rect x="1465" y="858" width="3" height="1" fill="#000"/>
<rect x="1471" y="858" width="3" height="1" fill="#000"/>
<rect x="1477" y="858" width="3" height="1" fill="#000"/>
<rect x="1483" y="858" width="3" height="1" fill="#000"/>
<rect x="1489" y="858" width="3" height="1" fill="#000"/>
<rect x="1495" y="858" width="3" height="1" fill="#000"/>
<rect x="1501" y="858" width="3" height="1" fill="#000"/>
<rect x="1507" y="858" width="3" height="1" fill="#000"/>
<rect x="1513" y="858" width="3" height="1" fill="#000"/>
<rect x="1519" y="858" width="3" height="1" fill="#000"/>
<rect x="1525" y="858" width="3" height="1" fill="#000"/>
<rect x="1531" y="858" width="3" height="1" fill="#000"/>
<rect x="1537" y="858" width="3" height="1" fill="#000"/>
<rect x="1543" y="858" width="3" height="1" fill="#000"/>
<rect x="1549" y="858" width="3" height="1" fill="#000"/>
<rect x="1555" y="858" width="3" height="1" fill="#000"/>
<rect x="1561" y="858" width="3" height="1" fill="#000"/>
<rect x="1567" y="858" width="3" height="1" fill="#000"/>
<rect x="1573" y="858" width="3" height="1" fill="#000"/>
<rect x="1579" y="858" width="3" height="1" fill="#000"/>
<rect x="1585" y="858" width="3" height="1" fill="#000"/>
<rect x="1591" y="858" width="3" height="1" fill="#000"/>
<rect x="1597" y="858" width="3" height="1" fill="#000"/>
<rect x="1603" y="858" width="3" height="1" fill="#000"/>
<rect x="1609" y="858" width="3" height="1" fill="#000"/>
<rect x="1615" y="858" width="3" height="1" fill="#000"/>
<rect x="1621" y="858" width="3" height="1" fill="#000"/>
<rect x="1627" y="858" width="3" height="1" fill="#000"/>
<rect x="1633" y="858" width="3" height="1" fill="#000"/>
<rect x="1639" y="858" width="3" height="1" fill="#000"/>
<rect x="1645" y="858" width="3" height="1" fill="#000"/>
<rect x="1" y="906" width="3" height="1" fill="#000"/>
<rect x="7" y="906" width="3" height="1" fill="#000"/>
<rect x="13" y="906" width="3" height="1" fill="#000"/>
<rect x="19" y="906" width="3" height="1" fill="#000"/>
<rect x="25" y="906" width="3" height="1" fill="#000"/>
<rect x="31" y="906" width="3" height="1" fill="#000"/>
<rect x="37" y="906" width="3" height="1" fill="#000"/>
<rect x="43" y="906" width="3" height="1" fill="#000"/>
<rect x="49" y="906" width="3" height="1" fill="#000"/>
<rect x="55" y="906" width="3" height="1" fill="#000"/>
<rect x="61" y="906" width="3" height="1" fill="#000"/>
<rect x="67" y="906" width="3" height="1" fill="#000"/>
<rect x="73" y="906" width="3" height="1" fill="#000"/>
<rect x="79" y="906" width="3" height="1" fill="#000"/>
<rect x="85" y="906" width="3" height="1" fill="#000"/>
<rect x="91" y="906" width="3" height="1" fill="#000"/>
<rect x="97" y="906" width="3" height="1" fill="#000"/>
<rect x="103" y="906" width="3" height="1" fill="#000"/>
<rect x="109" y="906" width="3" height="1" fill="#000"/>
<rect x="115" y="906" width="3" height="1" fill="#000"/>
<rect x="121" y="906" width="3" height="1" fill="#000"/>
<rect x="127" y="906" width="3" height="1" fill="#000"/>
<rect x="133" y="906" width="3" height="1" fill="#000"/>
<rect x="139" y="906" width="3" height="1" fill="#000"/>
<rect x="145" y="906" width="3" height="1" fill="#000"/>
<rect x="151" y="906" width="3" height="1" fill="#000"/>
<rect x="157" y="906" width="3" height="1" fill="#000"/>
<rect x="163" y="906" width="3" height="1" fill="#000"/>
<rect x="169" y="906" width="3" height="1" fill="#000"/>
<rect x="175" y="906" width="3" height="1" fill="#000"/>
<rect x="181" y="906" width="3" height="1" fill="#000"/>
<rect x="187" y="906" width="3" height="1" fill="#000"/>
<rect x="193" y="906" width="3" height="1" fill="#000"/>
<rect x="199" y="906" width="3" height="1" fill="#000"/>
<rect x="205" y="906" width="3" height="1" fill="#000"/>
<rect x="211" y="906" width="3" height="1" fill="#000"/>
<rect x="217" y="906" width="3" height="1" fill="#000"/>
<rect x="223" y="906" width="3" height="1" fill="#000"/>
<rect x="229" y="906" width="3" height="1" fill="#000"/>
<rect x="235" y="906" width="3" height="1" fill="#000"/>
<rect x="241" y="906" width="3" height="1" fill="#000"/>
<rect x="247" y="906" width="3" height="1" fill="#000"/>
<rect x="253" y="906" width="3" height="1" fill="#000"/>
<rect x="259" y="906" width="3" height="1" fill="#000"/>
<rect x="265" y="906" width="3" height="1" fill="#000"/>
<rect x="271" y="906" width="3" height="1" fill="#000"/>
<rect x="277" y="906" width="3" height="1" fill="#000"/>
<rect x="283" y="906" width="3" height="1" fill="#000"/>
<rect x="289" y="906" width="3" height="1" fill="#000"/>
<rect x="295" y="906" width="3" height="1" fill="#000"/>
<rect x="301" y="906" width="3" height="1" fill="#000"/>
<rect x="307" y="906" width="3" height="1" fill="#000"/>
<rect x="313" y="906" width="3" height="1" fill="#000"/>
<rect x="319" y="906" width="3" height="1" fill="#000"/>
<rect x="325" y="906" width="3" height="1" fill="#000"/>
<rect x="331" y="906" width="3" height="1" fill="#000"/>
<rect x="337" y="906" width="3" height="1" fill="#000"/>
<rect x="343" y="906" width="3" height="1" fill="#000"/>
<rect x="349" y="906" width="3" height="1" fill="#000"/>
<rect x="355" y="906" width="3" height="1" fill="#000"/>
<rect x="361" y="906" width="3" height="1" fill="#000"/>
<rect x="367" y="906" width="3" height="1" fill="#000"/>
<rect x="373" y="906" width="3" height="1" fill="#000"/>
<rect x="379" y="906" width="3" height="1" fill="#000"/>
<rect x="385" y="906" width="3" height="1" fill="#000"/>
<rect x="391" y="906" width="3" height="1" fill="#000"/>
<rect x="397" y="906" width="3" height="1" fill="#000"/>
<rect x="403" y="906" width="3" height="1" fill="#000"/>
<rect x="409" y="906" width="3" height="1" fill="#000"/>
<rect x="415" y="906" width="3" height="1" fill="#000"/>
<rect x="421" y="906" width="3" height="1" fill="#000"/>
<rect x="427" y="906" width="3" height="1" fill="#000"/>
<rect x="433" y="906" width="3" height="1" fill="#000"/>
<rect x="439" y="906" width="3" height="1" fill="#000"/>
<rect x="445" y="906" width="3" height="1" fill="#000"/>
<rect x="451" y="906" width="3" height="1" fill="#000"/>
<rect x="457" y="906" width="3" height="1" fill="#000"/>
<rect x="463" y="906" width="3" height="1" fill="#000"/>
<rect x="469" y="906" width="3" height="1" fill="#000"/>
<rect x="475" y="906" width="3" height="1" fill="#000"/>
<rect x="481" y="906" width="3" height="1" fill="#000"/>
<rect x="487" y="906" width="3" height="1" fill="#000"/>
<rect x="493" y="906" width="3" height="1" fill="#000"/>
<rect x="499" y="906" width="3" height="1" fill="#000"/>
<rect x="505" y="906" width="3" height="1" fill="#000"/>
<rect x="511" y="906" width="3" height="1" fill="#000"/>
<rect x="517" y="906" width="3" height="1" fill="#000"/>
<rect x="523" y="906" width="3" height="1" fill="#000"/>
<rect x="529" y="906" width="3" height="1" fill="#000"/>
<rect x="535" y="906" width="3" height="1" fill="#000"/>
<rect x="541" y="906" width="3" height="1" fill="#000"/>
<rect x="547" y="906" width="3" height="1" fill="#000"/>
<rect x="553" y="906" width="3" height="1" fill="#000"/>
<rect x="559" y="906" width="3" height="1" fill="#000"/>
<rect x="565" y="906" width="3" height="1" fill="#000"/>
<rect x="571" y="906" width="3" height="1" fill="#000"/>
<rect x="577" y="906" width="3" height="1" fill="#000"/>
<rect x="583" y="906" width="3" height="1" fill="#000"/>
<rect x="589" y="906" width="3" height="1" fill="#000"/>
<rect x="595" y="906" width="3" height="1" fill="#000"/>
<rect x="601" y="906" width="3" height="1" fill="#000"/>
<rect x="607" y="906" width="3" height="1" fill="#000"/>
<rect x="613" y="906" width="3" height="1" fill="#000"/>
<rect x="619" y="906" width="3" height="1" fill="#000"/>
<rect x="625" y="906" width="3" height="1" fill="#000"/>
<rect x="631" y="906" width="3" height="1" fill="#000"/>
<rect x="637" y="906" width="3" height="1" fill="#000"/>
<rect x="643" y="906" width="3" height="1" fill="#000"/>
<rect x="649" y="906" width="3" height="1" fill="#000"/>
<rect x="655" y="906" width="3" height="1" fill="#000"/>
<rect x="661" y="906" width="3" height="1" fill="#000"/>
<rect x="667" y="906" width="3" height="1" fill="#000"/>
<rect x="673" y="906" width="3" height="1" fill="#000"/>
<rect x="679" y="906" width="3" height="1" fill="#000"/>
<rect x="685" y="906" width="3" height="1" fill="#000"/>
<rect x="691" y="906" width="3" height="1" fill="#000"/>
<rect x="697" y="906" width="3" height="1" fill="#000"/>
<rect x="703" y="906" width="3" height="1" fill="#000"/>
<rect x="709" y="906" width="3" height="1" fill="#000"/>
<rect x="715" y="906" width="3" height="1" fill="#000"/>
<rect x="721" y="906" width="3" height="1" fill="#000"/>
<rect x="727" y="906" width="3" height="1" fill="#000"/>
<rect x="733" y="906" width="3" height="1" fill="#000"/>
<rect x="739" y="906" width="3" height="1" fill="#000"/>
<rect x="745" y="906" width="3" height="1" fill="#000"/>
<rect x="751" y="906" width="3" height="1" fill="#000"/>
<rect x="757" y="906" width="3" height="1" fill="#000"/>
<rect x="763" y="906" width="3" height="1" fill="#000"/>
<rect x="769" y="906" width="3" height="1" fill="#000"/>
<rect x="775" y="906" width="3" height="1" fill="#000"/>
<rect x="781" y="906" width="3" height="1" fill="#000"/>
<rect x="787" y="906" width="3" height="1" fill="#000"/>
<rect x="793" y="906" width="3" height="1" fill="#000"/>
<rect x="799" y="906" width="3" height="1" fill="#000"/>
<rect x="805" y="906" width="3" height="1" fill="#000"/>
<rect x="811" y="906" width="3" height="1" fill="#000"/>
<rect x="817" y="906" width="3" height="1" fill="#000"/>
<rect x="823" y="906" width="3" height="1" fill="#000"/>
<rect x="829" y="906" width="3" height="1" fill="#000"/>
<rect x="835" y="906" width="3" height="1" fill="#000"/>
<rect x="841" y="906" width="3" height="1" fill="#000"/>
<rect x="847" y="906" width="3" height="1" fill="#000"/>
<rect x="853" y="906" width="3" height="1" fill="#000"/>
<rect x="859" y="906" width="3" height="1" fill="#000"/>
<rect x="865" y="906" width="3" height="1" fill="#000"/>
<rect x="871" y="906" width="3" height="1" fill="#000"/>
<rect x="877" y="906" width="3" height="1" fill="#000"/>
<rect x="883" y="906" width="3" height="1" fill="#000"/>
<rect x="889" y="906" width="3" height="1" fill="#000"/>
<rect x="895" y="906" width="3" height="1" fill="#000"/>
<rect x="901" y="906" width="3" height="1" fill="#000"/>
<rect x="907" y="906" width="3" height="1" fill="#000"/>
<rect x="913" y="906" width="3" height="1" fill="#000"/>
<rect x="919" y="906" width="3" height="1" fill="#000"/>
<rect x="925" y="906" width="3" height="1" fill="#000"/>
<rect x="931" y="906" width="3" height="1" fill="#000"/>
<rect x="937" y="906" width="3" height="1" fill="#000"/>
<rect x="943" y="906" width="3" height="1" fill="#000"/>
<rect x="949" y="906" width="3" height="1" fill="#000"/>
<rect x="955" y="906" width="3" height="1" fill="#000"/>
<rect x="961" y="906" width="3" height="1" fill="#000"/>
<rect x="967" y="906" width="3" height="1" fill="#000"/>
<rect x="973" y="906" width="3" height="1" fill="#000"/>
<rect x="979" y="906" width="3" height="1" fill="#000"/>
<rect x="985" y="906" width="3" height="1" fill="#000"/>
<rect x="991" y="906" width="3" height="1" fill="#000"/>
<rect x="997" y="906" width="3" height="1" fill="#000"/>
<rect x="1003" y="906" width="3" height="1" fill="#000"/>
<rect x="1009" y="906" width="3" height="1" fill="#000"/>
<rect x="1015" y="906" width="3" height="1" fill="#000"/>
<rect x="1021" y="906" width="3" height="1" fill="#000"/>
<rect x="1027" y="906" width="3" height="1" fill="#000"/>
<rect x="1033" y="906" width="3" height="1" fill="#000"/>
<rect x="1039" y="906" width="3" height="1" fill="#000"/>
<rect x="1045" y="906" width="3" height="1" fill="#000"/>
<rect x="1051" y="906" width="3" height="1" fill="#000"/>
<rect x="1057" y="906" width="3" height="1" fill="#000"/>
<rect x="1063" y="906" width="3" height="1" fill="#000"/>
<rect x="1069" y="906" width="3" height="1" fill="#000"/>
<rect x="1075" y="906" width="3" height="1" fill="#000"/>
<rect x="1081" y="906" width="3" height="1" fill="#000"/>
<rect x="1087" y="906" width="3" height="1" fill="#000"/>
<rect x="1093" y="906" width="3" height="1" fill="#000"/>
<rect x="1099" y="906" width="3" height="1" fill="#000"/>
<rect x="1105" y="906" width="3" height="1" fill="#000"/>
<rect x="1111" y="906" width="3" height="1" fill="#000"/>
<rect x="1117" y="906" width="3" height="1" fill="#000"/>
<rect x="1123" y="906" width="3" height="1" fill="#000"/>
<rect x="1129" y="906" width="3" height="1" fill="#000"/>
<rect x="1135" y="906" width="3" height="1" fill="#000"/>
<rect x="1141" y="906" width="3" height="1" fill="#000"/>
<rect x="1147" y="906" width="3" height="1" fill="#000"/>
<rect x="1153" y="906" width="3" height="1" fill="#000"/>
<rect x="1159" y="906" width="3" height="1" fill="#000"/>
<rect x="1165" y="906" width="3" height="1" fill="#000"/>
<rect x="1171" y="906" width="3" height="1" fill="#000"/>
<rect x="1177" y="906" width="3" height="1" fill="#000"/>
<rect x="1183" y="906" width="3" height="1" fill="#000"/>
<rect x="1189" y="906" width="3" height="1" fill="#000"/>
<rect x="1195" y="906" width="3" height="1" fill="#000"/>
<rect x="1201" y="906" width="3" height="1" fill="#000"/>
<rect x="1207" y="906" width="3" height="1" fill="#000"/>
<rect x="1213" y="906" width="3" height="1" fill="#000"/>
<rect x="1219" y="906" width="3" height="1" fill="#000"/>
<rect x="1225" y="906" width="3" height="1" fill="#000"/>
<rect x="1231" y="906" width="3" height="1" fill="#000"/>
<rect x="1237" y="906" width="3" height="1" fill="#000"/>
<rect x="1243" y="906" width="3" height="1" fill="#000"/>
<rect x="1249" y="906" width="3" height="1" fill="#000"/>
<rect x="1255" y="906" width="3" height="1" fill="#000"/>
<rect x="1261" y="906" width="3" height="1" fill="#000"/>
<rect x="1267" y="906" width="3" height="1" fill="#000"/>
<rect x="1273" y="906" width="3" height="1" fill="#000"/>
<rect x="1279" y="906" width="3" height="1" fill="#000"/>
<rect x="1285" y="906" width="3" height="1" fill="#000"/>
<rect x="1291" y="906" width="3" height="1" fill="#000"/>
<rect x="1297" y="906" width="3" height="1" fill="#000"/>
<rect x="1303" y="906" width="3" height="1" fill="#000"/>
<rect x="1309" y="906" width="3" height="1" fill="#000"/>
<rect x="1315" y="906" width="3" height="1" fill="#000"/>
<rect x="1321" y="906" width="3" height="1" fill="#000"/>
<rect x="1327" y="906" width="3" height="1" fill="#000"/>
<rect x="1333" y="906" width="3" height="1" fill="#000"/>
<rect x="1339" y="906" width="3" height="1" fill="#000"/>
<rect x="1345" y="906" width="3" height="1" fill="#000"/>
<rect x="1351" y="906" width="3" height="1" fill="#000"/>
<rect x="1357" y="906" width="3" height="1" fill="#000"/>
<rect x="1363" y="906" width="3" height="1" fill="#000"/>
<rect x="1369" y="906" width="3" height="1" fill="#000"/>
<rect x="1375" y="906" width="3" height="1" fill="#000"/>
<rect x="1381" y="906" width="3" height="1" fill="#000"/>
<rect x="1387" y="906" width="3" height="1" fill="#000"/>
<rect x="1393" y="906" width="3" height="1" fill="#000"/>
<rect x="1399" y="906" width="3" height="1" fill="#000"/>
<rect x="1405" y="906" width="3" height="1" fill="#000"/>
<rect x="1411" y="906" width="3" height="1" fill="#000"/>
<rect x="1417" y="906" width="3" height="1" fill="#000"/>
<rect x="1423" y="906" width="3" height="1" fill="#000"/>
<rect x="1429" y="906" width="3" height="1" fill="#000"/>
<rect x="1435" y="906" width="3" height="1" fill="#000"/>
<rect x="1441" y="906" width="3" height="1" fill="#000"/>
<rect x="1447" y="906" width="3" height="1" fill="#000"/>
<rect x="1453" y="906" width="3" height="1" fill="#000"/>
<rect x="1459" y="906" width="3" height="1" fill="#000"/>
<rect x="1465" y="906" width="3" height="1" fill="#000"/>
<rect x="1471" y="906" width="3" height="1" fill="#000"/>
<rect x="1477" y="906" width="3" height="1" fill="#000"/>
<rect x="1483" y="906" width="3" height="1" fill="#000"/>
<rect x="1489" y="906" width="3" height="1" fill="#000"/>
<rect x="1495" y="906" width="3" height="1" fill="#000"/>
<rect x="1501" y="906" width="3" height="1" fill="#000"/>
<rect x="1507" y="906" width="3" height="1" fill="#000"/>
<rect x="1513" y="906" width="3" height="1" fill="#000"/>
<rect x="1519" y="906" width="3" height="1" fill="#000"/>
<rect x="1525" y="906" width="3" height="1" fill="#000"/>
<rect x="1531" y="906" width="3" height="1" fill="#000"/>
<rect x="1537" y="906" width="3" height="1" fill="#000"/>
<rect x="1543" y="906" width="3" height="1" fill="#000"/>
<rect x="1549" y="906" width="3" height="1" fill="#000"/>
<rect x="1555" y="906" width="3" height="1" fill="#000"/>
<rect x="1561" y="906" width="3" height="1" fill="#000"/>
<rect x="1567" y="906" width="3" height="1" fill="#000"/>
<rect x="1573" y="906" width="3" height="1" fill="#000"/>
<rect x="1579" y="906" width="3" height="1" fill="#000"/>
<rect x="1585" y="906" width="3" height="1" fill="#000"/>
<rect x="1591" y="906" width="3" height="1" fill="#000"/>
<rect x="1597" y="906" width="3" height="1" fill="#000"/>
<rect x="1603" y="906" width="3" height="1" fill="#000"/>
<rect x="1609" y="906" width="3" height="1" fill="#000"/>
<rect x="1615" y="906" width="3" height="1" fill="#000"/>
<rect x="1621" y="906" width="3" height="1" fill="#000"/>
<rect x="1627" y="906" width="3" height="1" fill="#000"/>
<rect x="1633" y="906" width="3" height="1" fill="#000"/>
<rect x="1639" y="906" width="3" height="1" fill="#000"/>
<rect x="1645" y="906" width="3" height="1" fill="#000"/>
</g>
<polyline clip-path="url(#crsi)" points="-4.0,856.0 4.0,867.5 12.0,870.8 20.0,874.1 28.0,863.6 36.0,869.8 44.0,863.0 52.0,857.8 60.0,863.0 68.0,859.1 76.0,851.3 84.0,845.9 92.0,851.9 100.0,858.1 108.0,851.9 116.0,844.9 124.0,847.8 132.0,846.9 140.0,846.9 148.0,844.1 156.0,843.9 164.0,846.9 172.0,853.9 180.0,857.2 188.0,865.9 196.0,865.9 204.0,860.5 212.0,857.4 220.0,857.2 228.0,864.0 236.0,859.5 244.0,854.6 252.0,857.2 260.0,860.1 268.0,858.5 276.0,862.0 284.0,851.3 292.0,848.4 300.0,849.8 308.0,847.4 316.0,859.7 324.0,853.3 332.0,848.0 340.0,846.5 348.0,844.9 356.0,844.9 364.0,837.7 372.0,837.7 380.0,837.7 388.0,838.7 396.0,838.7 404.0,838.7 412.0,838.7 420.0,847.8 428.0,847.8 436.0,852.7 444.0,851.9 452.0,846.9 460.0,838.7 468.0,837.7 476.0,837.7 484.0,835.8 492.0,839.6 500.0,846.9 508.0,844.5 516.0,838.7 524.0,843.0 532.0,833.2 540.0,831.3 548.0,830.9 556.0,836.1 564.0,841.0 572.0,847.8 580.0,847.8 588.0,847.8 596.0,850.0 604.0,830.9 612.0,829.5 620.0,826.6 628.0,832.8 636.0,833.2 644.0,836.1 652.0,832.6 660.0,836.7 668.0,850.0 676.0,840.2 684.0,837.7 692.0,841.0 700.0,839.6 708.0,838.7 716.0,839.1 724.0,843.9 732.0,843.9 740.0,840.2 748.0,836.1 756.0,833.8 764.0,846.5 772.0,851.9 780.0,861.1 788.0,859.7 796.0,867.9 804.0,873.7 812.0,886.8 820.0,886.8 828.0,886.8 836.0,895.7 844.0,897.1 852.0,902.0 860.0,905.8 868.0,903.9 876.0,903.9 884.0,903.9 892.0,903.9 900.0,899.0 908.0,898.1 916.0,900.0 924.0,891.2 932.0,882.9 940.0,888.7 948.0,890.3 956.0,885.4 964.0,879.0 972.0,873.7 980.0,860.6 988.0,869.2 996.0,889.3 1004.0,890.9 1012.0,891.7 1020.0,886.7 1028.0,881.3 1036.0,878.3 1044.0,871.8 1052.0,875.9 1060.0,869.8 1068.0,869.8 1076.0,863.8 1084.0,876.7 1092.0,867.8 1100.0,866.2 1108.0,864.2 1116.0,863.8 1124.0,862.8 1132.0,855.2 1140.0,852.2 1148.0,850.2 1156.0,849.6 1164.0,848.8 1172.0,852.2 1180.0,861.2 1188.0,863.8 1196.0,854.6 1204.0,855.0 1212.0,860.2 1220.0,865.6 1228.0,865.6 1236.0,858.8 1244.0,861.6 1252.0,862.8 1260.0,860.6 1268.0,860.2 1276.0,851.2 1284.0,846.2 1292.0,838.1 1300.0,837.5 1308.0,836.7" fill="none" stroke="#1e90ff" stroke-width="2" stroke-linejoin="round" shape-rendering="crispEdges"/>
<text x="-1.5" y="803" font-size="9.8" fill="#000" text-anchor="start" textLength="61.5" lengthAdjust="spacingAndGlyphs" stroke="#000" stroke-width="0.1">SI(14) 66.7380</text>
<text x="1650" y="800" font-size="9.8" fill="#000" text-anchor="start" textLength="16.0" lengthAdjust="spacingAndGlyphs" stroke="#000" stroke-width="0.1">100</text>
<text x="1650" y="822" font-size="9.8" fill="#000" text-anchor="start" textLength="11.0" lengthAdjust="spacingAndGlyphs" stroke="#000" stroke-width="0.1">80</text>
<text x="1650" y="862" font-size="9.8" fill="#000" text-anchor="start" textLength="11.0" lengthAdjust="spacingAndGlyphs" stroke="#000" stroke-width="0.1">50</text>
<text x="1650" y="910" font-size="9.8" fill="#000" text-anchor="start" textLength="11.0" lengthAdjust="spacingAndGlyphs" stroke="#000" stroke-width="0.1">15</text>
<text x="1650" y="924" font-size="9.8" fill="#000" text-anchor="start" textLength="6.0" lengthAdjust="spacingAndGlyphs" stroke="#000" stroke-width="0.1">0</text>
<g shape-rendering="crispEdges">
<rect x="52" y="928" width="1" height="3" fill="#000"/>
<rect x="116" y="928" width="1" height="3" fill="#000"/>
<rect x="180" y="928" width="1" height="3" fill="#000"/>
<rect x="244" y="928" width="1" height="3" fill="#000"/>
<rect x="308" y="928" width="1" height="3" fill="#000"/>
<rect x="372" y="928" width="1" height="3" fill="#000"/>
<rect x="436" y="928" width="1" height="3" fill="#000"/>
<rect x="500" y="928" width="1" height="3" fill="#000"/>
<rect x="564" y="928" width="1" height="3" fill="#000"/>
<rect x="628" y="928" width="1" height="3" fill="#000"/>
<rect x="692" y="928" width="1" height="3" fill="#000"/>
<rect x="756" y="928" width="1" height="3" fill="#000"/>
<rect x="820" y="928" width="1" height="3" fill="#000"/>
<rect x="884" y="928" width="1" height="3" fill="#000"/>
<rect x="948" y="928" width="1" height="3" fill="#000"/>
<rect x="1012" y="928" width="1" height="3" fill="#000"/>
<rect x="1076" y="928" width="1" height="3" fill="#000"/>
<rect x="1140" y="928" width="1" height="3" fill="#000"/>
<rect x="1204" y="928" width="1" height="3" fill="#000"/>
<rect x="1268" y="928" width="1" height="3" fill="#000"/>
</g>
<text x="51" y="940" font-size="9.8" fill="#000" text-anchor="start" textLength="57.0" lengthAdjust="spacingAndGlyphs" stroke="#000" stroke-width="0.1">19 May 14:55</text>
<text x="115" y="940" font-size="9.8" fill="#000" text-anchor="start" textLength="57.0" lengthAdjust="spacingAndGlyphs" stroke="#000" stroke-width="0.1">22 May 23:30</text>
<text x="179" y="940" font-size="9.8" fill="#000" text-anchor="start" textLength="57.0" lengthAdjust="spacingAndGlyphs" stroke="#000" stroke-width="0.1">24 May 04:00</text>
<text x="243" y="940" font-size="9.8" fill="#000" text-anchor="start" textLength="57.0" lengthAdjust="spacingAndGlyphs" stroke="#000" stroke-width="0.1">25 May 14:55</text>
<text x="307" y="940" font-size="9.8" fill="#000" text-anchor="start" textLength="57.0" lengthAdjust="spacingAndGlyphs" stroke="#000" stroke-width="0.1">26 May 23:30</text>
<text x="371" y="940" font-size="9.8" fill="#000" text-anchor="start" textLength="57.0" lengthAdjust="spacingAndGlyphs" stroke="#000" stroke-width="0.1">30 May 04:00</text>
<text x="435" y="940" font-size="9.8" fill="#000" text-anchor="start" textLength="57.0" lengthAdjust="spacingAndGlyphs" stroke="#000" stroke-width="0.1">31 May 14:55</text>
<text x="499" y="940" font-size="9.8" fill="#000" text-anchor="start" textLength="47.3" lengthAdjust="spacingAndGlyphs" stroke="#000" stroke-width="0.1">1 Jun 23:30</text>
<text x="563" y="940" font-size="9.8" fill="#000" text-anchor="start" textLength="47.3" lengthAdjust="spacingAndGlyphs" stroke="#000" stroke-width="0.1">3 Jun 04:00</text>
<text x="627" y="940" font-size="9.8" fill="#000" text-anchor="start" textLength="47.3" lengthAdjust="spacingAndGlyphs" stroke="#000" stroke-width="0.1">6 Jun 14:55</text>
<text x="691" y="940" font-size="9.8" fill="#000" text-anchor="start" textLength="47.3" lengthAdjust="spacingAndGlyphs" stroke="#000" stroke-width="0.1">7 Jun 23:30</text>
<text x="755" y="940" font-size="9.8" fill="#000" text-anchor="start" textLength="47.3" lengthAdjust="spacingAndGlyphs" stroke="#000" stroke-width="0.1">9 Jun 04:00</text>
<text x="819" y="940" font-size="9.8" fill="#000" text-anchor="start" textLength="52.3" lengthAdjust="spacingAndGlyphs" stroke="#000" stroke-width="0.1">10 Jun 14:55</text>
<text x="883" y="940" font-size="9.8" fill="#000" text-anchor="start" textLength="52.3" lengthAdjust="spacingAndGlyphs" stroke="#000" stroke-width="0.1">13 Jun 23:30</text>
<text x="947" y="940" font-size="9.8" fill="#000" text-anchor="start" textLength="52.3" lengthAdjust="spacingAndGlyphs" stroke="#000" stroke-width="0.1">15 Jun 04:00</text>
<text x="1011" y="940" font-size="9.8" fill="#000" text-anchor="start" textLength="52.3" lengthAdjust="spacingAndGlyphs" stroke="#000" stroke-width="0.1">16 Jun 14:55</text>
<text x="1075" y="940" font-size="9.8" fill="#000" text-anchor="start" textLength="52.3" lengthAdjust="spacingAndGlyphs" stroke="#000" stroke-width="0.1">19 Jun 23:30</text>
<text x="1139" y="940" font-size="9.8" fill="#000" text-anchor="start" textLength="52.3" lengthAdjust="spacingAndGlyphs" stroke="#000" stroke-width="0.1">21 Jun 04:00</text>
<text x="1203" y="940" font-size="9.8" fill="#000" text-anchor="start" textLength="52.3" lengthAdjust="spacingAndGlyphs" stroke="#000" stroke-width="0.1">22 Jun 14:55</text>
<text x="1267" y="940" font-size="9.8" fill="#000" text-anchor="start" textLength="52.3" lengthAdjust="spacingAndGlyphs" stroke="#000" stroke-width="0.1">23 Jun 23:30</text>
<text x="0.5" y="940" font-size="9.8" fill="#000" text-anchor="start" textLength="41.3" lengthAdjust="spacingAndGlyphs" stroke="#000" stroke-width="0.1">May 2022</text>
<g id="tb">
<rect x="0" y="16" width="2" height="3" fill="#e0b060"/>
<rect x="8" y="0" width="1" height="21" fill="#a8a8a8" shape-rendering="crispEdges"/>
<path d="M18.5,2.5 H27 L30.5,6 V15.5 H18.5 Z" fill="#fff" stroke="#808080" stroke-width="1"/>
<path d="M27,2.5 V6 H30.5" fill="none" stroke="#808080" stroke-width="1"/>
<rect x="20" y="6" width="5" height="1" fill="#a0a0a0"/><rect x="20" y="9" width="7" height="1" fill="#a0a0a0"/><rect x="20" y="11" width="6" height="1" fill="#a0a0a0"/>
<path d="M25.5,8.5 H30.5 V11.5 H33.5 V16.5 H30.5 V19.5 H25.5 V16.5 H22.5 V11.5 H25.5 Z" fill="#3ee43e" stroke="#1a9a1a" stroke-width="1"/>
<path d="M40.5,3.5 L41.5,4.5 M37.5,5.5 H44.5 M38.5,6.5 L39.5,8 M43.5,6.5 L42.5,8 M37.5,8.5 H44.5 M37.5,10.5 H44.5 M41,8.5 V14.5 M41,10.5 L37.5,13.5 M41,10.5 L44.5,13 M48.5,3.5 L45.5,5 V14 M45.5,8.5 H49.5 M48,8.5 V14.5" fill="none" stroke="#000" stroke-width="1.1" stroke-linecap="square"/>
<path d="M50.5,3.5 L52,5 M49.5,7.5 H52 V13.5 L53.5,12.5 M53.5,4.5 H60.5 M57.5,4.5 V14 Q57.5,14.5 55.5,13.5" fill="none" stroke="#000" stroke-width="1.1" stroke-linecap="square"/>
<path d="M64,3 L65,4.5 M70,3 L69,4.5 M63.5,5.5 H70.5 V10.5 H63.5 Z M63.5,8 H70.5 M67,5.5 V14.5 M61.5,12.5 H72.5" fill="none" stroke="#000" stroke-width="1.1" stroke-linecap="square"/>
<path d="M85,12.5 Q88,6 90.5,3.5 L99.5,9.5 Q98,12 100.5,12 L93,17.8 Z" fill="#e0b828" stroke="#a06a10" stroke-width="1" stroke-linejoin="round"/>
<path d="M90.5,4.5 L98.5,9.8" fill="none" stroke="#fff0a0" stroke-width="1"/><path d="M86,13 L93,16.5 L99.5,11.5" fill="none" stroke="#c08820" stroke-width="1"/>
<rect x="115" y="2" width="10.5" height="9" fill="#1e9cf0" stroke="#0a70c0" stroke-width="0.8"/>
<rect x="119" y="6" width="5" height="1.5" fill="#e0f4ff"/>
<path d="M115,17.5 C112.5,17.5 112.5,13.5 115.5,13.8 C115.5,10.5 119.5,9.5 121,12 C122.5,9 127,10 126.8,13.5 C129.8,13.5 129.8,17.5 127,17.5 Z" fill="#e8ecf4" stroke="#4a6090" stroke-width="1"/>
<circle cx="149" cy="9.7" r="7.5" fill="none" stroke="#7aa0d8" stroke-width="1.2"/>
<circle cx="149" cy="9.7" r="4.5" fill="none" stroke="#90b8e0" stroke-width="1.2"/>
<path d="M149,2.2 A7.5,7.5 0 0 1 149,17.2" fill="none" stroke="#78b878" stroke-width="1.2"/>
<circle cx="149" cy="9.7" r="1.6" fill="#2050c0"/>
<rect x="149" y="10" width="1.2" height="7.5" fill="#20a020"/>
<path d="M169,9 L184,9 L178,17 Z" fill="#f0e070" stroke="#c0a020" stroke-width="0.8"/>
<ellipse cx="176" cy="6.5" rx="8" ry="3" fill="#60b0e0" stroke="#2080b0" stroke-width="0.8"/>
<ellipse cx="176" cy="4.5" rx="4" ry="3" fill="#80c8f0"/>
<circle cx="180.6" cy="13.5" r="4.3" fill="#e02010"/><rect x="179" y="12" width="3.2" height="3.2" fill="#fff"/>
<path d="M193.5,3 L192.5,4.5 M190.5,4.5 H198.5 V14.5 H190.5 Z M190.5,7.8 H198.5 M190.5,11.2 H198.5" fill="none" stroke="#000" stroke-width="1.1" stroke-linecap="square"/>
<path d="M201.5,4.5 H206 M201,7.5 H206.5 M203,8 L201.5,13.5 H206 M205,11 L206.5,13.5 M207.5,6.5 H211.5 V13.5 Q211.5,14.5 210,14 M209.5,3.5 V10 L207,14" fill="none" stroke="#000" stroke-width="1.1" stroke-linecap="square"/>
<path d="M219,3 L219.5,4.5 M213.5,5.5 H225.5 M216.5,6.5 L214.5,9 M222,6.5 L224.5,9 M216,9 L223.5,14.5 M222.5,9 L214,14.5" fill="none" stroke="#000" stroke-width="1.1" stroke-linecap="square"/>
<path d="M228.5,3.5 H234.5 V9 H228.5 Z M228.5,6.2 H234.5 M228,10.5 H236 Q235.5,14.5 233.5,14.5 M229.5,10.5 L227,13.5 M231.5,10.5 L229,14 M234,10.5 L231.5,14" fill="none" stroke="#000" stroke-width="1.1" stroke-linecap="square"/>
<rect x="244" y="0" width="1" height="21" fill="#909090" shape-rendering="crispEdges"/>
<rect x="248" y="1" width="3" height="1" fill="#b8b8b8" shape-rendering="crispEdges"/>
<rect x="248" y="3" width="3" height="1" fill="#b8b8b8" shape-rendering="crispEdges"/>
<rect x="248" y="5" width="3" height="1" fill="#b8b8b8" shape-rendering="crispEdges"/>
<rect x="248" y="7" width="3" height="1" fill="#b8b8b8" shape-rendering="crispEdges"/>
<rect x="248" y="9" width="3" height="1" fill="#b8b8b8" shape-rendering="crispEdges"/>
<rect x="248" y="11" width="3" height="1" fill="#b8b8b8" shape-rendering="crispEdges"/>
<rect x="248" y="13" width="3" height="1" fill="#b8b8b8" shape-rendering="crispEdges"/>
<rect x="248" y="15" width="3" height="1" fill="#b8b8b8" shape-rendering="crispEdges"/>
<rect x="248" y="17" width="3" height="1" fill="#b8b8b8" shape-rendering="crispEdges"/>
<rect x="248" y="19" width="3" height="1" fill="#b8b8b8" shape-rendering="crispEdges"/>
<path d="M262.5,4 V18 M260,15.5 H274" stroke="#505050" stroke-width="1.2" fill="none"/>
<path d="M260.5,6 L262.5,3.5 L264.5,6 Z M273,13.5 L275.5,15.5 L273,17.5 Z" fill="#505050"/>
<path d="M268.5,5 V13.5 M268.5,6.5 H271 M268.5,12.5 H266" stroke="#1a9a1a" stroke-width="1.2" fill="none"/>
<rect x="282" y="0" width="26" height="21" fill="#f7f7f7" shape-rendering="crispEdges"/>
<rect x="282" y="0" width="1" height="21" fill="#a0a0a0" shape-rendering="crispEdges"/>
<path d="M290.5,4 V18 M288,15.5 H302" stroke="#505050" stroke-width="1.2" fill="none"/>
<path d="M288.5,6 L290.5,3.5 L292.5,6 Z M301,13.5 L303.5,15.5 L301,17.5 Z" fill="#505050"/>
<rect x="296" y="2" width="1" height="12" fill="#1a9a1a"/><rect x="294" y="4" width="5" height="8" fill="#3ee43e" stroke="#1a9a1a" stroke-width="0.9"/>
<path d="M318.5,4 V18 M316,15.5 H330" stroke="#505050" stroke-width="1.2" fill="none"/>
<path d="M316.5,6 L318.5,3.5 L320.5,6 Z M329,13.5 L331.5,15.5 L329,17.5 Z" fill="#505050"/>
<path d="M317,12.5 Q322,5 324.5,7 Q327,9 329,10.5" stroke="#2a9a2a" stroke-width="1.2" fill="none"/>
<rect x="339" y="0" width="1" height="21" fill="#a0a0a0" shape-rendering="crispEdges"/>
<path d="M357,11 L362.5,16.5" stroke="#c0a020" stroke-width="2.6" stroke-linecap="round"/>
<circle cx="354" cy="8" r="5.6" fill="#d8f0fc" stroke="#3a80c8" stroke-width="1.3"/>
<rect x="351" y="7.3" width="6" height="1.6" fill="#3a80c8"/>
<rect x="353.2" y="5" width="1.6" height="6" fill="#3a80c8"/>
<path d="M385,11 L390.5,16.5" stroke="#c0a020" stroke-width="2.6" stroke-linecap="round"/>
<circle cx="382" cy="8" r="5.6" fill="#d8f0fc" stroke="#3a80c8" stroke-width="1.3"/>
<rect x="379" y="7.3" width="6" height="1.6" fill="#3a80c8"/>
<rect x="404" y="2" width="8" height="8" fill="#30a030"/><rect x="412" y="2" width="8" height="8" fill="#2060d0"/><rect x="404" y="10" width="8" height="8" fill="#2060d0"/><rect x="412" y="10" width="8" height="8" fill="#30a030"/>
<rect x="406" y="5" width="5" height="3" fill="#f0f0f0"/>
<rect x="414" y="5" width="5" height="3" fill="#f0f0f0"/>
<rect x="406" y="13" width="5" height="3" fill="#f0f0f0"/>
<rect x="414" y="13" width="5" height="3" fill="#f0f0f0"/>
<rect x="429" y="0" width="1" height="21" fill="#a0a0a0" shape-rendering="crispEdges"/>
<rect x="434" y="0" width="1" height="21" fill="#a0a0a0" shape-rendering="crispEdges"/>
<rect x="435" y="0" width="24" height="21" fill="#f7f7f7" shape-rendering="crispEdges"/>
<path d="M442.5,4 V18 M440,15.5 H454" stroke="#505050" stroke-width="1.2" fill="none"/>
<path d="M440.5,6 L442.5,3.5 L444.5,6 Z M453,13.5 L455.5,15.5 L453,17.5 Z" fill="#505050"/>
<path d="M447,6 L451.5,9.5 L447,13 Z" fill="#30c030" stroke="#1a9a1a" stroke-width="0.6"/>
<rect x="462" y="0" width="1" height="21" fill="#a0a0a0" shape-rendering="crispEdges"/>
<rect x="463" y="0" width="24" height="21" fill="#f7f7f7" shape-rendering="crispEdges"/>
<path d="M470.5,4 V18 M468,15.5 H482" stroke="#505050" stroke-width="1.2" fill="none"/>
<path d="M468.5,6 L470.5,3.5 L472.5,6 Z M481,13.5 L483.5,15.5 L481,17.5 Z" fill="#505050"/>
<rect x="476" y="4" width="1.3" height="10" fill="#2070b0"/><path d="M477.5,9.5 L480,7.5 V8.8 H482 V10.2 H480 V11.5 Z" fill="#e04010"/>
<rect x="491" y="0" width="1" height="21" fill="#a0a0a0" shape-rendering="crispEdges"/>
<path d="M503.5,2.5 H510 L512.5,5 V15.5 H503.5 Z" fill="#fff" stroke="#707070" stroke-width="1"/>
<path d="M507.5,8.5 H511.5 V11.5 H514.5 V15.5 H511.5 V18.5 H507.5 V15.5 H504.5 V11.5 H507.5 Z" fill="#3ee43e" stroke="#1a9a1a" stroke-width="1"/>
<path d="M522,9 H527 L524.5,12 Z" fill="#000"/>
<circle cx="547" cy="10" r="7" fill="#1e70d0" stroke="#0a4a9a" stroke-width="1"/><circle cx="547" cy="10" r="5" fill="#f4f8ff"/><path d="M547,6.5 V10 H550" stroke="#333" stroke-width="1" fill="none"/>
<path d="M562,9 H567 L564.5,12 Z" fill="#000"/>
<rect x="578.5" y="3.5" width="15" height="13" fill="#fff" stroke="#3060a0" stroke-width="1"/><rect x="579" y="4" width="14" height="2.5" fill="#4a80c0"/>
<path d="M580,10 L583,9 L586,10 L589,8.5 L592,9" stroke="#d02020" stroke-width="1" fill="none"/><path d="M580,14 L583,12.5 L586,14 L589,12.5 L592,13" stroke="#20a020" stroke-width="1" fill="none"/>
<path d="M601,9 H606 L603.5,12 Z" fill="#000"/>
<rect x="612" y="0" width="1" height="21" fill="#a0a0a0" shape-rendering="crispEdges"/>
<rect x="616" y="1" width="3" height="1" fill="#b8b8b8" shape-rendering="crispEdges"/>
<rect x="616" y="3" width="3" height="1" fill="#b8b8b8" shape-rendering="crispEdges"/>
<rect x="616" y="5" width="3" height="1" fill="#b8b8b8" shape-rendering="crispEdges"/>
<rect x="616" y="7" width="3" height="1" fill="#b8b8b8" shape-rendering="crispEdges"/>
<rect x="616" y="9" width="3" height="1" fill="#b8b8b8" shape-rendering="crispEdges"/>
<rect x="616" y="11" width="3" height="1" fill="#b8b8b8" shape-rendering="crispEdges"/>
<rect x="616" y="13" width="3" height="1" fill="#b8b8b8" shape-rendering="crispEdges"/>
<rect x="616" y="15" width="3" height="1" fill="#b8b8b8" shape-rendering="crispEdges"/>
<rect x="616" y="17" width="3" height="1" fill="#b8b8b8" shape-rendering="crispEdges"/>
<rect x="616" y="19" width="3" height="1" fill="#b8b8b8" shape-rendering="crispEdges"/>
<rect x="622" y="0" width="1" height="21" fill="#a0a0a0" shape-rendering="crispEdges"/>
<rect x="623" y="0" width="25" height="21" fill="#f7f7f7" shape-rendering="crispEdges"/>
<path d="M630.5,4 L630.5,15.5 L633,13 L635.5,17.5 L637,16.8 L635,12.3 L638.5,12.3 Z" fill="#404040"/>
<path d="M662.5,3 V17 M655,10.5 H670" stroke="#505050" stroke-width="1.2" fill="none"/>
<rect x="661" y="9" width="3" height="3" fill="#f0f0f0"/><rect x="662" y="10" width="1" height="1" fill="#505050"/>
<rect x="679" y="0" width="1" height="21" fill="#a0a0a0" shape-rendering="crispEdges"/>
<rect x="696" y="5" width="1.2" height="10" fill="#505050"/>
<rect x="719" y="10" width="12" height="1.2" fill="#505050"/>
<path d="M747,16 L759,5" stroke="#505050" stroke-width="1.2"/>
<path d="M773,13 L783,4 M775,16 L785,7 M776,9 V15 M779,7 V13 M782,5 V11" stroke="#505050" stroke-width="1" fill="none"/>
<text x="784" y="18" font-size="7" font-weight="bold" fill="#404040">E</text>
<rect x="802" y="3" width="1" height="1" fill="#505050"/>
<rect x="804" y="3" width="1" height="1" fill="#505050"/>
<rect x="806" y="3" width="1" height="1" fill="#505050"/>
<rect x="808" y="3" width="1" height="1" fill="#505050"/>
<rect x="810" y="3" width="1" height="1" fill="#505050"/>
<rect x="812" y="3" width="1" height="1" fill="#505050"/>
<rect x="814" y="3" width="1" height="1" fill="#505050"/>
<rect x="802" y="6.5" width="1" height="1" fill="#505050"/>
<rect x="804" y="6.5" width="1" height="1" fill="#505050"/>
<rect x="806" y="6.5" width="1" height="1" fill="#505050"/>
<rect x="808" y="6.5" width="1" height="1" fill="#505050"/>
<rect x="810" y="6.5" width="1" height="1" fill="#505050"/>
<rect x="812" y="6.5" width="1" height="1" fill="#505050"/>
<rect x="814" y="6.5" width="1" height="1" fill="#505050"/>
<rect x="802" y="10" width="1" height="1" fill="#505050"/>
<rect x="804" y="10" width="1" height="1" fill="#505050"/>
<rect x="806" y="10" width="1" height="1" fill="#505050"/>
<rect x="808" y="10" width="1" height="1" fill="#505050"/>
<rect x="810" y="10" width="1" height="1" fill="#505050"/>
<rect x="812" y="10" width="1" height="1" fill="#505050"/>
<rect x="814" y="10" width="1" height="1" fill="#505050"/>
<rect x="802" y="14" width="1" height="1" fill="#505050"/>
<rect x="804" y="14" width="1" height="1" fill="#505050"/>
<rect x="806" y="14" width="1" height="1" fill="#505050"/>
<rect x="808" y="14" width="1" height="1" fill="#505050"/>
<rect x="810" y="14" width="1" height="1" fill="#505050"/>
<text x="812" y="18" font-size="7" font-weight="bold" fill="#404040">F</text>
<text x="831" y="15" font-size="12" fill="#505050">A</text>
<rect x="858" y="3" width="1" height="1" fill="#606060"/><rect x="858" y="16" width="1" height="1" fill="#606060"/>
<rect x="860" y="3" width="1" height="1" fill="#606060"/><rect x="860" y="16" width="1" height="1" fill="#606060"/>
<rect x="862" y="3" width="1" height="1" fill="#606060"/><rect x="862" y="16" width="1" height="1" fill="#606060"/>
<rect x="864" y="3" width="1" height="1" fill="#606060"/><rect x="864" y="16" width="1" height="1" fill="#606060"/>
<rect x="866" y="3" width="1" height="1" fill="#606060"/><rect x="866" y="16" width="1" height="1" fill="#606060"/>
<rect x="868" y="3" width="1" height="1" fill="#606060"/><rect x="868" y="16" width="1" height="1" fill="#606060"/>
<rect x="870" y="3" width="1" height="1" fill="#606060"/><rect x="870" y="16" width="1" height="1" fill="#606060"/>
<rect x="858" y="3" width="1" height="1" fill="#606060"/><rect x="870" y="3" width="1" height="1" fill="#606060"/>
<rect x="858" y="5" width="1" height="1" fill="#606060"/><rect x="870" y="5" width="1" height="1" fill="#606060"/>
<rect x="858" y="7" width="1" height="1" fill="#606060"/><rect x="870" y="7" width="1" height="1" fill="#606060"/>
<rect x="858" y="9" width="1" height="1" fill="#606060"/><rect x="870" y="9" width="1" height="1" fill="#606060"/>
<rect x="858" y="11" width="1" height="1" fill="#606060"/><rect x="870" y="11" width="1" height="1" fill="#606060"/>
<rect x="858" y="13" width="1" height="1" fill="#606060"/><rect x="870" y="13" width="1" height="1" fill="#606060"/>
<rect x="858" y="15" width="1" height="1" fill="#606060"/><rect x="870" y="15" width="1" height="1" fill="#606060"/>
<text x="860" y="14.5" font-size="11" font-weight="bold" fill="#303030">T</text>
<path d="M886.5,6.5 L889.5,4 L892.5,6.5 L889.5,9 Z M894.5,13 L897.5,10.5 L900.5,13 L897.5,15.5 Z" fill="#404040"/><path d="M889,9.5 L891,12 L895,7.5" stroke="#404040" stroke-width="1.3" fill="none"/>
<path d="M907,9 H912 L909.5,12 Z" fill="#000"/>
<rect x="918" y="0" width="1" height="21" fill="#a0a0a0" shape-rendering="crispEdges"/>
<rect x="922" y="1" width="3" height="1" fill="#b8b8b8" shape-rendering="crispEdges"/>
<rect x="922" y="3" width="3" height="1" fill="#b8b8b8" shape-rendering="crispEdges"/>
<rect x="922" y="5" width="3" height="1" fill="#b8b8b8" shape-rendering="crispEdges"/>
<rect x="922" y="7" width="3" height="1" fill="#b8b8b8" shape-rendering="crispEdges"/>
<rect x="922" y="9" width="3" height="1" fill="#b8b8b8" shape-rendering="crispEdges"/>
<rect x="922" y="11" width="3" height="1" fill="#b8b8b8" shape-rendering="crispEdges"/>
<rect x="922" y="13" width="3" height="1" fill="#b8b8b8" shape-rendering="crispEdges"/>
<rect x="922" y="15" width="3" height="1" fill="#b8b8b8" shape-rendering="crispEdges"/>
<rect x="922" y="17" width="3" height="1" fill="#b8b8b8" shape-rendering="crispEdges"/>
<rect x="922" y="19" width="3" height="1" fill="#b8b8b8" shape-rendering="crispEdges"/>
<rect x="1068" y="0" width="26" height="21" fill="#f7f7f7" shape-rendering="crispEdges"/>
<rect x="1068" y="0" width="1" height="21" fill="#a0a0a0" shape-rendering="crispEdges"/>
<text x="940" y="14" font-size="10.5" fill="#404040" text-anchor="middle">M1</text>
<text x="968" y="14" font-size="10.5" fill="#404040" text-anchor="middle">M5</text>
<text x="996.5" y="14" font-size="10.5" fill="#404040" text-anchor="middle">M15</text>
<text x="1024.5" y="14" font-size="10.5" fill="#404040" text-anchor="middle">M30</text>
<text x="1052" y="14" font-size="10.5" fill="#404040" text-anchor="middle">H1</text>
<text x="1080" y="14" font-size="10.5" fill="#404040" text-anchor="middle">H4</text>
<text x="1108" y="14" font-size="10.5" fill="#404040" text-anchor="middle">D1</text>
<text x="1136.5" y="14" font-size="10.5" fill="#404040" text-anchor="middle">W1</text>
<text x="1164" y="14" font-size="10.5" fill="#404040" text-anchor="middle">MN</text>
<rect x="1178" y="0" width="1" height="21" fill="#a0a0a0" shape-rendering="crispEdges"/>
<circle cx="1649.6" cy="7.5" r="3.6" fill="#fff" stroke="#2a58d0" stroke-width="1.5"/><path d="M1647,10.3 L1643.5,14" stroke="#2a58d0" stroke-width="2.4" stroke-linecap="round"/>
<path d="M1667,15 Q1665.5,9 1671.5,8.2 Q1677,8 1677,12.5 Q1676.5,16.5 1671.5,16.5 L1669.5,18.5 L1669.8,16.2 Q1667.5,16 1667,15 Z" fill="#e8e8f0" stroke="#a8a8a8" stroke-width="0.8"/>
<circle cx="1680.4" cy="7.4" r="8.2" fill="#e0301a"/><ellipse cx="1680" cy="4" rx="6" ry="3.5" fill="#f06040" opacity="0.45"/>
<path d="M1677,4.3 L1680,3.2 V11.2 M1677.3,11.6 H1682.5" stroke="#fff" stroke-width="1.5" fill="none"/>
</g>
</svg>
</body></html>
